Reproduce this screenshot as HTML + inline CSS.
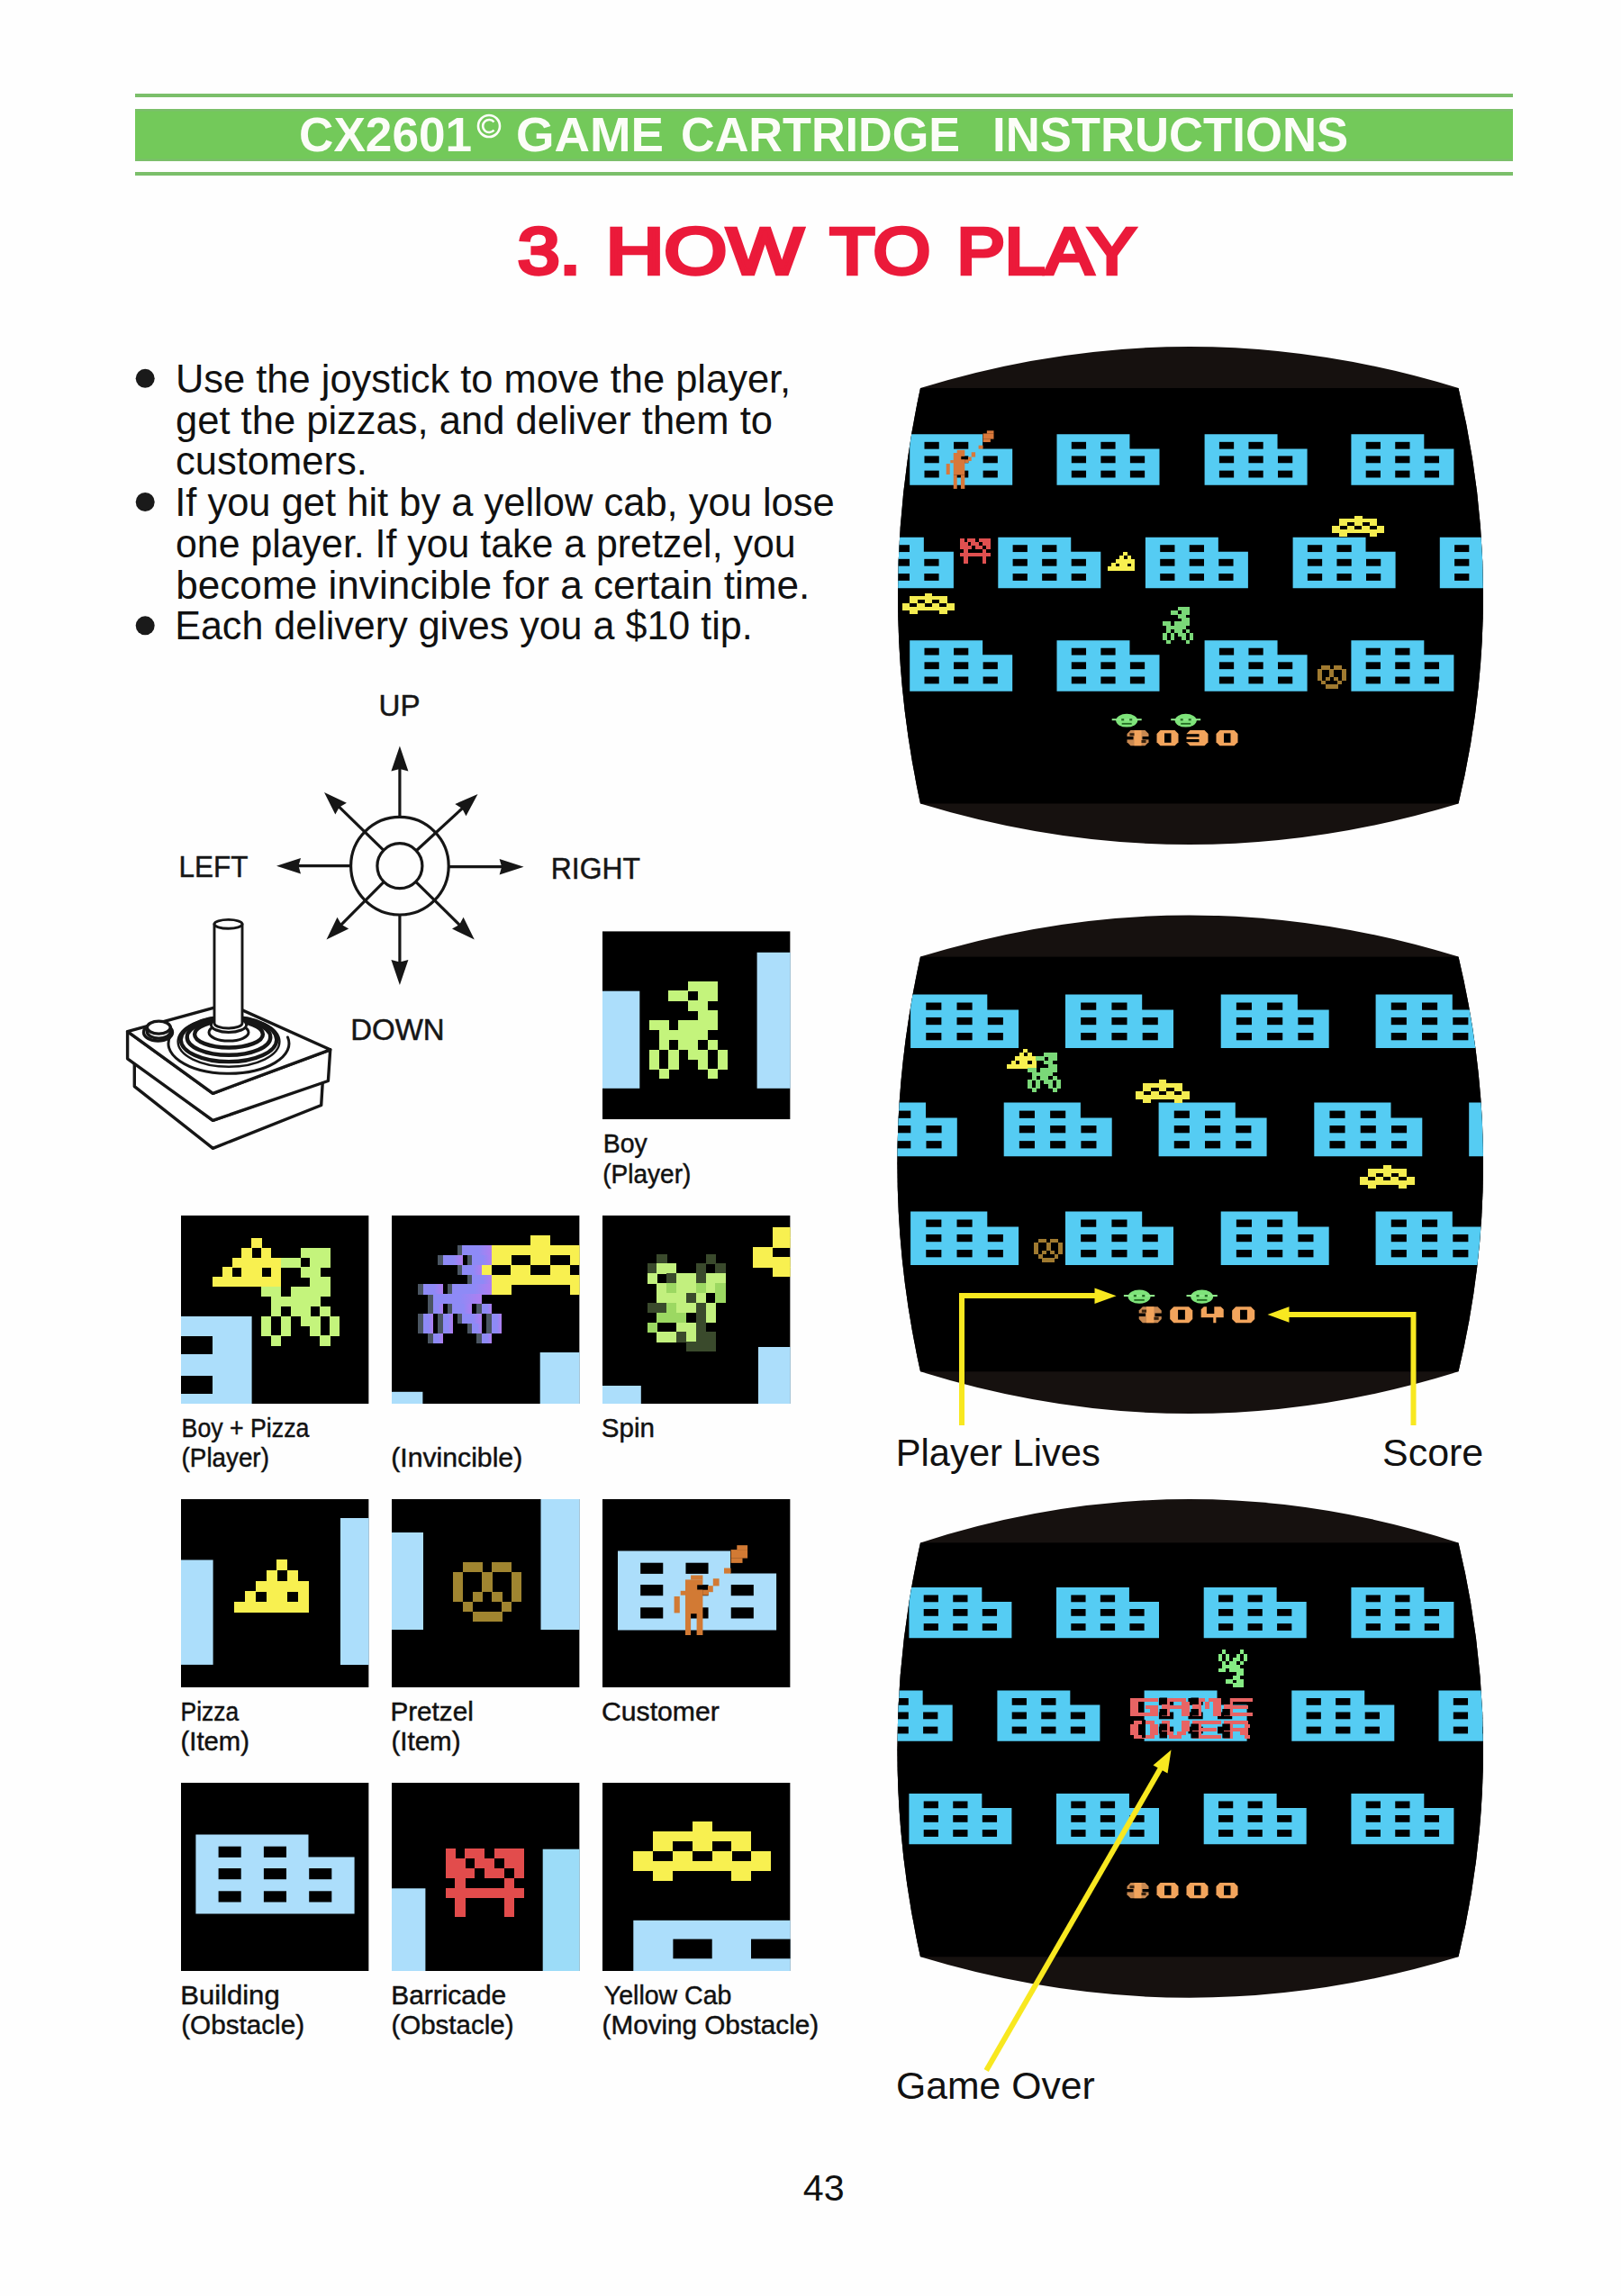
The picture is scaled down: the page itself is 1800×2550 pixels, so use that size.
<!DOCTYPE html><html><head><meta charset="utf-8"><style>html,body{margin:0;padding:0;background:#fff;}svg{display:block;}text{font-family:"Liberation Sans",sans-serif;white-space:pre;}</style></head><body>
<svg width="1800" height="2550" viewBox="0 0 1800 2550">
<rect x="0" y="0" width="1800" height="2550" fill="#fefefe"/>
<rect x="150" y="104" width="1530" height="4" fill="#7bbf6a"/>
<rect x="150" y="121" width="1530" height="58" fill="#73c95a"/>
<rect x="150" y="191" width="1530" height="4" fill="#7bbf6a"/>
<rect x="150" y="121" width="1530" height="2.5" fill="#7bbf6a"/><rect x="150" y="176.5" width="1530" height="2.5" fill="#7bbf6a"/>
<text x="332.00" y="168.00" font-size="53" font-weight="bold" fill="#fcfdf8" textLength="192.08" lengthAdjust="spacingAndGlyphs" >CX2601</text>
<circle cx="543" cy="140" r="12" fill="none" stroke="#fcfdf8" stroke-width="2.6"/>
<path d="M548.5 135.5 A7 7 0 1 0 548.5 144.5" fill="none" stroke="#fcfdf8" stroke-width="2.6"/>
<text x="573.00" y="168.00" font-size="53" font-weight="bold" fill="#fcfdf8" textLength="164.10" lengthAdjust="spacingAndGlyphs" >GAME</text>
<text x="756.00" y="168.00" font-size="53" font-weight="bold" fill="#fcfdf8" textLength="310.10" lengthAdjust="spacingAndGlyphs" >CARTRIDGE</text>
<text x="1102.00" y="168.00" font-size="53" font-weight="bold" fill="#fcfdf8" textLength="395.08" lengthAdjust="spacingAndGlyphs" >INSTRUCTIONS</text>
<text x="575.00" y="303.80" font-size="72" font-weight="normal" fill="#eb1a3a" textLength="69.80" lengthAdjust="spacingAndGlyphs" stroke="#eb1a3a" stroke-width="4.4" stroke-linejoin="miter">3.</text>
<text x="672.80" y="303.80" font-size="72" font-weight="normal" fill="#eb1a3a" textLength="218.98" lengthAdjust="spacingAndGlyphs" stroke="#eb1a3a" stroke-width="4.4" stroke-linejoin="miter">HOW</text>
<text x="921.40" y="303.80" font-size="72" font-weight="normal" fill="#eb1a3a" textLength="111.56" lengthAdjust="spacingAndGlyphs" stroke="#eb1a3a" stroke-width="4.4" stroke-linejoin="miter">TO</text>
<text x="1062.40" y="303.80" font-size="72" font-weight="normal" fill="#eb1a3a" textLength="199.06" lengthAdjust="spacingAndGlyphs" stroke="#eb1a3a" stroke-width="4.4" stroke-linejoin="miter">PLAY</text>
<text x="195.00" y="435.80" font-size="44" font-weight="normal" fill="#111" textLength="683.18" lengthAdjust="spacingAndGlyphs" >Use the joystick to move the player,</text>
<text x="195.00" y="481.55" font-size="44" font-weight="normal" fill="#111" textLength="662.99" lengthAdjust="spacingAndGlyphs" >get the pizzas, and deliver them to</text>
<text x="195.00" y="527.30" font-size="44" font-weight="normal" fill="#111" textLength="212.87" lengthAdjust="spacingAndGlyphs" >customers.</text>
<text x="194.20" y="573.05" font-size="44" font-weight="normal" fill="#111" textLength="732.55" lengthAdjust="spacingAndGlyphs" >If you get hit by a yellow cab, you lose</text>
<text x="195.00" y="618.80" font-size="44" font-weight="normal" fill="#111" textLength="688.57" lengthAdjust="spacingAndGlyphs" >one player. If you take a pretzel, you</text>
<text x="195.20" y="664.55" font-size="44" font-weight="normal" fill="#111" textLength="704.20" lengthAdjust="spacingAndGlyphs" >become invincible for a certain time.</text>
<text x="194.20" y="710.30" font-size="44" font-weight="normal" fill="#111" textLength="641.53" lengthAdjust="spacingAndGlyphs" >Each delivery gives you a $10 tip.</text>
<circle cx="161.2" cy="420.3" r="10.5" fill="#1a1a1a"/>
<circle cx="161.2" cy="557.5" r="10.5" fill="#1a1a1a"/>
<circle cx="161.2" cy="694.8" r="10.5" fill="#1a1a1a"/>
<g stroke="#161616" fill="none" stroke-width="3.2" stroke-linecap="butt">
<circle cx="443.9" cy="961.7" r="54.3"/>
<circle cx="443.9" cy="961.7" r="25"/>
<line x1="443.9" y1="907.4" x2="443.9" y2="851.5"/><path d="M443.9 828.5 L453.4 856.5 L443.9 854.0 L434.4 856.5 Z" fill="#161616" stroke="none"/>
<line x1="389.6" y1="961.7" x2="329.0" y2="961.7"/><path d="M307.0 961.7 L334.0 952.9 L331.5 961.7 L334.0 970.5 Z" fill="#161616" stroke="none"/>
<line x1="498.2" y1="962.7" x2="559.6" y2="962.7"/><path d="M581.6 962.7 L554.6 971.5 L557.1 962.7 L554.6 953.9 Z" fill="#161616" stroke="none"/>
<line x1="443.9" y1="1016.0" x2="443.9" y2="1071.0"/><path d="M443.9 1094.0 L434.4 1066.0 L443.9 1068.5 L453.4 1066.0 Z" fill="#161616" stroke="none"/>
<line x1="426.0" y1="944.3" x2="375.0" y2="894.7"/><path d="M360.0 880.0 L384.9 891.7 L376.8 896.4 L372.3 904.6 Z" fill="#161616" stroke="none"/>
<line x1="462.3" y1="944.8" x2="515.0" y2="896.2"/><path d="M530.5 882.0 L517.5 906.2 L513.2 897.9 L505.3 893.0 Z" fill="#161616" stroke="none"/>
<line x1="426.3" y1="979.4" x2="377.3" y2="1028.6"/><path d="M362.5 1043.5 L374.5 1018.7 L379.1 1026.8 L387.2 1031.4 Z" fill="#161616" stroke="none"/>
<line x1="461.7" y1="979.3" x2="511.9" y2="1028.8"/><path d="M526.8 1043.5 L502.0 1031.6 L510.1 1027.0 L514.6 1018.8 Z" fill="#161616" stroke="none"/>
</g>
<text x="420.60" y="794.50" font-size="34" font-weight="normal" fill="#161616" textLength="45.97" lengthAdjust="spacingAndGlyphs" stroke="#161616" stroke-width="0.5">UP</text>
<text x="198.60" y="974.20" font-size="34" font-weight="normal" fill="#161616" textLength="76.87" lengthAdjust="spacingAndGlyphs" stroke="#161616" stroke-width="0.5">LEFT</text>
<text x="611.80" y="976.30" font-size="34" font-weight="normal" fill="#161616" textLength="99.09" lengthAdjust="spacingAndGlyphs" stroke="#161616" stroke-width="0.5">RIGHT</text>
<text x="389.20" y="1154.80" font-size="34" font-weight="normal" fill="#161616" textLength="104.53" lengthAdjust="spacingAndGlyphs" stroke="#161616" stroke-width="0.5">DOWN</text>
<g stroke="#161616" fill="#fff" stroke-width="3.4" stroke-linejoin="round" stroke-linecap="round">
<polygon points="149.3,1179.6 149.3,1206.6 236.4,1275.3 356.7,1227.5 358.3,1201.2 236.4,1244.4"/>
<polygon points="141.6,1145.7 141.6,1175.8 236.4,1244.4 364.4,1200.5 366.7,1165.8 236.4,1214.3"/>
<polygon points="141.6,1145.7 253.4,1114.9 366.7,1165.8 236.4,1214.3"/>
<path d="M319.5,1152.0 A67 33.3 0 1 1 189.6,1149.7" fill="none" stroke-width="3"/>
<ellipse cx="254" cy="1156.8" rx="56.4" ry="28" fill="none" stroke-width="2.4"/>
<ellipse cx="254" cy="1154.7" rx="53.2" ry="24.5" fill="none" stroke-width="4.2"/>
<ellipse cx="254" cy="1151.9" rx="46.3" ry="19.9" fill="none" stroke-width="4.4"/>
<ellipse cx="254" cy="1148.7" rx="37.9" ry="14.8" fill="none" stroke-width="4.4"/>
<ellipse cx="254" cy="1146.6" rx="22" ry="9.5" stroke-width="3"/>
<ellipse cx="254" cy="1138.2" rx="19.6" ry="8.2" stroke-width="3"/>
<path d="M238.0,1026.3 L238.0,1136.5 A15.5 5.5 0 0 0 269.0,1136.5 L269.0,1026.3" stroke-width="2.9"/>
<ellipse cx="253.5" cy="1026.3" rx="15.5" ry="4.9" stroke-width="2.9"/>
<ellipse cx="175.5" cy="1146.5" rx="16" ry="9.5"/>
<path d="M163.3,1141.1 L163.3,1146.1 A13 7 0 0 0 189.3,1146.1 L189.3,1141.1"/>
<ellipse cx="176.3" cy="1141.1" rx="13" ry="7"/>
</g>
<defs><linearGradient id="pg" x1="0" y1="0" x2="1" y2="0"><stop offset="0" stop-color="#8e8af6"/><stop offset="0.55" stop-color="#8e8af6"/><stop offset="1" stop-color="#b07ef0"/></linearGradient>
<clipPath id="c_boy"><rect x="669" y="1034.2" width="208.6" height="209"/></clipPath>
<clipPath id="c_bp"><rect x="201" y="1350" width="208.6" height="209"/></clipPath>
<clipPath id="c_inv"><rect x="435" y="1350" width="208.6" height="209"/></clipPath>
<clipPath id="c_spin"><rect x="669" y="1350" width="208.6" height="209"/></clipPath>
<clipPath id="c_pizza"><rect x="201" y="1665" width="208.6" height="209"/></clipPath>
<clipPath id="c_pretzel"><rect x="435" y="1665" width="208.6" height="209"/></clipPath>
<clipPath id="c_cust"><rect x="669" y="1665" width="208.6" height="209"/></clipPath>
<clipPath id="c_bld"><rect x="201" y="1980" width="208.6" height="209"/></clipPath>
<clipPath id="c_barr"><rect x="435" y="1980" width="208.6" height="209"/></clipPath>
<clipPath id="c_cab"><rect x="669" y="1980" width="208.6" height="209"/></clipPath>
</defs>
<g clip-path="url(#c_boy)"><rect x="669" y="1034.2" width="208.6" height="209" fill="#000"/><rect x="669" y="1100.7" width="41.3" height="108.1" fill="#acdefb"/><rect x="840.6" y="1057.8" width="40" height="151" fill="#acdefb"/><g shape-rendering="crispEdges"><rect x="764.10" y="1089.60" width="32.90" height="11.20" fill="#c4f47c"/><rect x="742.40" y="1100.45" width="22.05" height="11.20" fill="#c4f47c"/><rect x="774.95" y="1100.45" width="22.05" height="11.20" fill="#c4f47c"/><rect x="764.10" y="1111.30" width="22.05" height="11.20" fill="#c4f47c"/><rect x="774.95" y="1122.15" width="22.05" height="11.20" fill="#c4f47c"/><rect x="720.70" y="1133.00" width="22.05" height="11.20" fill="#c4f47c"/><rect x="753.25" y="1133.00" width="43.75" height="11.20" fill="#c4f47c"/><rect x="731.55" y="1143.85" width="54.60" height="11.20" fill="#c4f47c"/><rect x="731.55" y="1154.70" width="11.20" height="11.20" fill="#c4f47c"/><rect x="753.25" y="1154.70" width="22.05" height="11.20" fill="#c4f47c"/><rect x="785.80" y="1154.70" width="11.20" height="11.20" fill="#c4f47c"/><rect x="720.70" y="1165.55" width="11.20" height="11.20" fill="#c4f47c"/><rect x="742.40" y="1165.55" width="11.20" height="11.20" fill="#c4f47c"/><rect x="764.10" y="1165.55" width="22.05" height="11.20" fill="#c4f47c"/><rect x="796.65" y="1165.55" width="11.20" height="11.20" fill="#c4f47c"/><rect x="720.70" y="1176.40" width="11.20" height="11.20" fill="#c4f47c"/><rect x="742.40" y="1176.40" width="11.20" height="11.20" fill="#c4f47c"/><rect x="774.95" y="1176.40" width="11.20" height="11.20" fill="#c4f47c"/><rect x="796.65" y="1176.40" width="11.20" height="11.20" fill="#c4f47c"/><rect x="731.55" y="1187.25" width="11.20" height="11.20" fill="#c4f47c"/><rect x="785.80" y="1187.25" width="11.20" height="11.20" fill="#c4f47c"/></g></g>
<g clip-path="url(#c_bp)"><rect x="201" y="1350" width="208.6" height="209" fill="#000"/><rect x="201" y="1462" width="78.6" height="100" fill="#acdefb"/><rect x="195" y="1484" width="41" height="20" fill="#000"/><rect x="195" y="1528" width="41" height="20" fill="#000"/><g shape-rendering="crispEdges"><rect x="279.30" y="1374.80" width="11.20" height="11.20" fill="#f8f050"/><rect x="268.45" y="1385.65" width="11.20" height="11.20" fill="#f8f050"/><rect x="290.15" y="1385.65" width="11.20" height="11.20" fill="#f8f050"/><rect x="257.60" y="1396.50" width="54.60" height="11.20" fill="#f8f050"/><rect x="246.75" y="1407.35" width="11.20" height="11.20" fill="#f8f050"/><rect x="268.45" y="1407.35" width="22.05" height="11.20" fill="#f8f050"/><rect x="301.00" y="1407.35" width="11.20" height="11.20" fill="#f8f050"/><rect x="235.90" y="1418.20" width="76.30" height="11.20" fill="#f8f050"/></g><g shape-rendering="crispEdges"><rect x="333.60" y="1385.70" width="32.90" height="11.20" fill="#c4f47c"/><rect x="311.90" y="1396.55" width="22.05" height="11.20" fill="#c4f47c"/><rect x="344.45" y="1396.55" width="22.05" height="11.20" fill="#c4f47c"/><rect x="333.60" y="1407.40" width="22.05" height="11.20" fill="#c4f47c"/><rect x="344.45" y="1418.25" width="22.05" height="11.20" fill="#c4f47c"/><rect x="290.20" y="1429.10" width="22.05" height="11.20" fill="#c4f47c"/><rect x="322.75" y="1429.10" width="43.75" height="11.20" fill="#c4f47c"/><rect x="301.05" y="1439.95" width="54.60" height="11.20" fill="#c4f47c"/><rect x="301.05" y="1450.80" width="11.20" height="11.20" fill="#c4f47c"/><rect x="322.75" y="1450.80" width="22.05" height="11.20" fill="#c4f47c"/><rect x="355.30" y="1450.80" width="11.20" height="11.20" fill="#c4f47c"/><rect x="290.20" y="1461.65" width="11.20" height="11.20" fill="#c4f47c"/><rect x="311.90" y="1461.65" width="11.20" height="11.20" fill="#c4f47c"/><rect x="333.60" y="1461.65" width="22.05" height="11.20" fill="#c4f47c"/><rect x="366.15" y="1461.65" width="11.20" height="11.20" fill="#c4f47c"/><rect x="290.20" y="1472.50" width="11.20" height="11.20" fill="#c4f47c"/><rect x="311.90" y="1472.50" width="11.20" height="11.20" fill="#c4f47c"/><rect x="344.45" y="1472.50" width="11.20" height="11.20" fill="#c4f47c"/><rect x="366.15" y="1472.50" width="11.20" height="11.20" fill="#c4f47c"/><rect x="301.05" y="1483.35" width="11.20" height="11.20" fill="#c4f47c"/><rect x="355.30" y="1483.35" width="11.20" height="11.20" fill="#c4f47c"/></g></g>
<g clip-path="url(#c_inv)"><rect x="435" y="1350" width="208.6" height="209" fill="#000"/><rect x="430" y="1545.8" width="39.4" height="20" fill="#acdefb"/><rect x="599.7" y="1502" width="50" height="60" fill="#acdefb"/><g shape-rendering="crispEdges"><rect x="589.10" y="1371.80" width="22.15" height="11.30" fill="#f8f050"/><rect x="545.50" y="1382.75" width="109.35" height="11.30" fill="#f8f050"/><rect x="545.50" y="1393.70" width="22.15" height="11.30" fill="#f8f050"/><rect x="589.10" y="1393.70" width="22.15" height="11.30" fill="#f8f050"/><rect x="632.70" y="1393.70" width="22.15" height="11.30" fill="#f8f050"/><rect x="523.70" y="1404.65" width="22.15" height="11.30" fill="#f8f050"/><rect x="567.30" y="1404.65" width="22.15" height="11.30" fill="#f8f050"/><rect x="610.90" y="1404.65" width="22.15" height="11.30" fill="#f8f050"/><rect x="654.50" y="1404.65" width="22.15" height="11.30" fill="#f8f050"/><rect x="523.70" y="1415.60" width="152.95" height="11.30" fill="#f8f050"/><rect x="545.50" y="1426.55" width="22.15" height="11.30" fill="#f8f050"/><rect x="632.70" y="1426.55" width="22.15" height="11.30" fill="#f8f050"/></g><g shape-rendering="crispEdges"><rect x="507.70" y="1383.00" width="32.90" height="11.20" fill="#4a5562"/><rect x="486.00" y="1393.85" width="22.05" height="11.20" fill="#4a5562"/><rect x="518.55" y="1393.85" width="22.05" height="11.20" fill="#4a5562"/><rect x="507.70" y="1404.70" width="22.05" height="11.20" fill="#4a5562"/><rect x="518.55" y="1415.55" width="22.05" height="11.20" fill="#4a5562"/><rect x="464.30" y="1426.40" width="22.05" height="11.20" fill="#4a5562"/><rect x="496.85" y="1426.40" width="43.75" height="11.20" fill="#4a5562"/><rect x="475.15" y="1437.25" width="54.60" height="11.20" fill="#4a5562"/><rect x="475.15" y="1448.10" width="11.20" height="11.20" fill="#4a5562"/><rect x="496.85" y="1448.10" width="22.05" height="11.20" fill="#4a5562"/><rect x="529.40" y="1448.10" width="11.20" height="11.20" fill="#4a5562"/><rect x="464.30" y="1458.95" width="11.20" height="11.20" fill="#4a5562"/><rect x="486.00" y="1458.95" width="11.20" height="11.20" fill="#4a5562"/><rect x="507.70" y="1458.95" width="22.05" height="11.20" fill="#4a5562"/><rect x="540.25" y="1458.95" width="11.20" height="11.20" fill="#4a5562"/><rect x="464.30" y="1469.80" width="11.20" height="11.20" fill="#4a5562"/><rect x="486.00" y="1469.80" width="11.20" height="11.20" fill="#4a5562"/><rect x="518.55" y="1469.80" width="11.20" height="11.20" fill="#4a5562"/><rect x="540.25" y="1469.80" width="11.20" height="11.20" fill="#4a5562"/><rect x="475.15" y="1480.65" width="11.20" height="11.20" fill="#4a5562"/><rect x="529.40" y="1480.65" width="11.20" height="11.20" fill="#4a5562"/></g><g shape-rendering="crispEdges"><rect x="513.20" y="1383.00" width="32.90" height="11.20" fill="url(#pg)"/><rect x="491.50" y="1393.85" width="22.05" height="11.20" fill="url(#pg)"/><rect x="524.05" y="1393.85" width="22.05" height="11.20" fill="url(#pg)"/><rect x="513.20" y="1404.70" width="22.05" height="11.20" fill="url(#pg)"/><rect x="524.05" y="1415.55" width="22.05" height="11.20" fill="url(#pg)"/><rect x="469.80" y="1426.40" width="22.05" height="11.20" fill="url(#pg)"/><rect x="502.35" y="1426.40" width="43.75" height="11.20" fill="url(#pg)"/><rect x="480.65" y="1437.25" width="54.60" height="11.20" fill="url(#pg)"/><rect x="480.65" y="1448.10" width="11.20" height="11.20" fill="url(#pg)"/><rect x="502.35" y="1448.10" width="22.05" height="11.20" fill="url(#pg)"/><rect x="534.90" y="1448.10" width="11.20" height="11.20" fill="url(#pg)"/><rect x="469.80" y="1458.95" width="11.20" height="11.20" fill="url(#pg)"/><rect x="491.50" y="1458.95" width="11.20" height="11.20" fill="url(#pg)"/><rect x="513.20" y="1458.95" width="22.05" height="11.20" fill="url(#pg)"/><rect x="545.75" y="1458.95" width="11.20" height="11.20" fill="url(#pg)"/><rect x="469.80" y="1469.80" width="11.20" height="11.20" fill="url(#pg)"/><rect x="491.50" y="1469.80" width="11.20" height="11.20" fill="url(#pg)"/><rect x="524.05" y="1469.80" width="11.20" height="11.20" fill="url(#pg)"/><rect x="545.75" y="1469.80" width="11.20" height="11.20" fill="url(#pg)"/><rect x="480.65" y="1480.65" width="11.20" height="11.20" fill="url(#pg)"/><rect x="534.90" y="1480.65" width="11.20" height="11.20" fill="url(#pg)"/></g></g>
<g clip-path="url(#c_spin)"><rect x="669" y="1350" width="208.6" height="209" fill="#000"/><rect x="660" y="1539" width="51.8" height="30" fill="#acdefb"/><rect x="842" y="1496" width="40" height="70" fill="#acdefb"/><g shape-rendering="crispEdges"><rect x="901.60" y="1352.40" width="22.15" height="11.30" fill="#f8f050"/><rect x="858.00" y="1363.35" width="109.35" height="11.30" fill="#f8f050"/><rect x="858.00" y="1374.30" width="22.15" height="11.30" fill="#f8f050"/><rect x="901.60" y="1374.30" width="22.15" height="11.30" fill="#f8f050"/><rect x="945.20" y="1374.30" width="22.15" height="11.30" fill="#f8f050"/><rect x="836.20" y="1385.25" width="22.15" height="11.30" fill="#f8f050"/><rect x="879.80" y="1385.25" width="22.15" height="11.30" fill="#f8f050"/><rect x="923.40" y="1385.25" width="22.15" height="11.30" fill="#f8f050"/><rect x="967.00" y="1385.25" width="22.15" height="11.30" fill="#f8f050"/><rect x="836.20" y="1396.20" width="152.95" height="11.30" fill="#f8f050"/><rect x="858.00" y="1407.15" width="22.15" height="11.30" fill="#f8f050"/><rect x="945.20" y="1407.15" width="22.15" height="11.30" fill="#f8f050"/></g><g shape-rendering="crispEdges"><rect x="729.35" y="1392.60" width="11.20" height="11.20" fill="#3a4a2c"/><rect x="783.60" y="1392.60" width="11.20" height="11.20" fill="#3a4a2c"/><rect x="718.50" y="1403.45" width="11.20" height="11.20" fill="#3a4a2c"/><rect x="729.35" y="1403.45" width="22.05" height="11.20" fill="#c2f07e"/><rect x="772.75" y="1403.45" width="11.20" height="11.20" fill="#3a4a2c"/><rect x="794.45" y="1403.45" width="11.20" height="11.20" fill="#3a4a2c"/><rect x="718.50" y="1414.30" width="11.20" height="11.20" fill="#c2f07e"/><rect x="740.20" y="1414.30" width="11.20" height="11.20" fill="#3a4a2c"/><rect x="751.05" y="1414.30" width="22.05" height="11.20" fill="#c2f07e"/><rect x="772.75" y="1414.30" width="11.20" height="11.20" fill="#3a4a2c"/><rect x="783.60" y="1414.30" width="22.05" height="11.20" fill="#c2f07e"/><rect x="729.35" y="1425.15" width="11.20" height="11.20" fill="#c2f07e"/><rect x="740.20" y="1425.15" width="11.20" height="11.20" fill="#9cd862"/><rect x="751.05" y="1425.15" width="22.05" height="11.20" fill="#c2f07e"/><rect x="772.75" y="1425.15" width="11.20" height="11.20" fill="#9cd862"/><rect x="783.60" y="1425.15" width="11.20" height="11.20" fill="#c2f07e"/><rect x="794.45" y="1425.15" width="11.20" height="11.20" fill="#9cd862"/><rect x="729.35" y="1436.00" width="32.90" height="11.20" fill="#c2f07e"/><rect x="761.90" y="1436.00" width="11.20" height="11.20" fill="#3a4a2c"/><rect x="772.75" y="1436.00" width="11.20" height="11.20" fill="#c2f07e"/><rect x="794.45" y="1436.00" width="11.20" height="11.20" fill="#9cd862"/><rect x="718.50" y="1446.85" width="22.05" height="11.20" fill="#3a4a2c"/><rect x="740.20" y="1446.85" width="11.20" height="11.20" fill="#9cd862"/><rect x="751.05" y="1446.85" width="22.05" height="11.20" fill="#c2f07e"/><rect x="772.75" y="1446.85" width="11.20" height="11.20" fill="#3a4a2c"/><rect x="783.60" y="1446.85" width="11.20" height="11.20" fill="#c2f07e"/><rect x="729.35" y="1457.70" width="32.90" height="11.20" fill="#9cd862"/><rect x="772.75" y="1457.70" width="11.20" height="11.20" fill="#3a4a2c"/><rect x="783.60" y="1457.70" width="11.20" height="11.20" fill="#c2f07e"/><rect x="718.50" y="1468.55" width="11.20" height="11.20" fill="#9cd862"/><rect x="751.05" y="1468.55" width="22.05" height="11.20" fill="#c2f07e"/><rect x="772.75" y="1468.55" width="11.20" height="11.20" fill="#3a4a2c"/><rect x="729.35" y="1479.40" width="22.05" height="11.20" fill="#c2f07e"/><rect x="751.05" y="1479.40" width="11.20" height="11.20" fill="#3a4a2c"/><rect x="761.90" y="1479.40" width="11.20" height="11.20" fill="#c2f07e"/><rect x="772.75" y="1479.40" width="22.05" height="11.20" fill="#3a4a2c"/><rect x="761.90" y="1490.25" width="32.90" height="11.20" fill="#3a4a2c"/></g></g>
<g clip-path="url(#c_pizza)"><rect x="201" y="1665" width="208.6" height="209" fill="#000"/><rect x="195" y="1732.5" width="41.6" height="116.4" fill="#acdefb"/><rect x="378" y="1686" width="40" height="163" fill="#acdefb"/><g shape-rendering="crispEdges"><rect x="307.26" y="1732.00" width="12.09" height="12.15" fill="#f8f050"/><rect x="295.52" y="1743.80" width="12.09" height="12.15" fill="#f8f050"/><rect x="319.00" y="1743.80" width="12.09" height="12.15" fill="#f8f050"/><rect x="283.78" y="1755.60" width="59.05" height="12.15" fill="#f8f050"/><rect x="272.04" y="1767.40" width="12.09" height="12.15" fill="#f8f050"/><rect x="295.52" y="1767.40" width="23.83" height="12.15" fill="#f8f050"/><rect x="330.74" y="1767.40" width="12.09" height="12.15" fill="#f8f050"/><rect x="260.30" y="1779.20" width="82.53" height="12.15" fill="#f8f050"/></g></g>
<g clip-path="url(#c_pretzel)"><rect x="435" y="1665" width="208.6" height="209" fill="#000"/><rect x="430" y="1702" width="40" height="108" fill="#acdefb"/><rect x="600.5" y="1660" width="50" height="150" fill="#acdefb"/><g shape-rendering="crispEdges"><rect x="513.60" y="1735.00" width="22.15" height="11.25" fill="#a08530"/><rect x="546.30" y="1735.00" width="22.15" height="11.25" fill="#a08530"/><rect x="502.70" y="1745.90" width="11.25" height="11.25" fill="#a08530"/><rect x="535.40" y="1745.90" width="11.25" height="11.25" fill="#a08530"/><rect x="568.10" y="1745.90" width="11.25" height="11.25" fill="#a08530"/><rect x="502.70" y="1756.80" width="11.25" height="11.25" fill="#a08530"/><rect x="535.40" y="1756.80" width="11.25" height="11.25" fill="#a08530"/><rect x="568.10" y="1756.80" width="11.25" height="11.25" fill="#a08530"/><rect x="502.70" y="1767.70" width="11.25" height="11.25" fill="#a08530"/><rect x="524.50" y="1767.70" width="11.25" height="11.25" fill="#a08530"/><rect x="546.30" y="1767.70" width="11.25" height="11.25" fill="#a08530"/><rect x="568.10" y="1767.70" width="11.25" height="11.25" fill="#a08530"/><rect x="513.60" y="1778.60" width="11.25" height="11.25" fill="#a08530"/><rect x="557.20" y="1778.60" width="11.25" height="11.25" fill="#a08530"/><rect x="524.50" y="1789.50" width="33.05" height="11.25" fill="#a08530"/></g></g>
<g clip-path="url(#c_cust)"><rect x="669" y="1665" width="208.6" height="209" fill="#000"/><path d="M686.00,1722.40 H811.03 V1747.51 H862.10 V1810.50 H686.00 Z" fill="#acdefb"/><rect x="711.18" y="1735.70" width="25.09" height="12.20" fill="#000"/><rect x="711.18" y="1760.02" width="25.09" height="12.20" fill="#000"/><rect x="711.18" y="1785.30" width="25.09" height="12.20" fill="#000"/><rect x="761.46" y="1735.70" width="25.09" height="12.20" fill="#000"/><rect x="761.46" y="1760.02" width="25.09" height="12.20" fill="#000"/><rect x="761.46" y="1785.30" width="25.09" height="12.20" fill="#000"/><rect x="811.74" y="1760.02" width="25.09" height="12.20" fill="#000"/><rect x="811.74" y="1785.30" width="25.09" height="12.20" fill="#000"/><g transform="translate(686.00,1722.40) scale(1.0000)"><rect x="81.10" y="27.10" width="13.30" height="5.10" fill="#d27a34"/><rect x="75.00" y="32.00" width="19.40" height="37.80" fill="#d27a34"/><rect x="69.70" y="44.40" width="5.50" height="4.90" fill="#d27a34"/><rect x="62.60" y="50.60" width="6.20" height="18.40" fill="#d27a34"/><rect x="94.20" y="43.10" width="6.70" height="6.20" fill="#d27a34"/><rect x="100.00" y="38.80" width="5.80" height="7.00" fill="#d27a34"/><rect x="105.80" y="30.80" width="6.80" height="8.20" fill="#d27a34"/><rect x="75.00" y="69.60" width="6.10" height="24.00" fill="#d27a34"/><rect x="87.60" y="69.60" width="6.80" height="24.00" fill="#d27a34"/><rect x="132.30" y="-6.20" width="11.80" height="5.10" fill="#d27a34"/><rect x="125.60" y="-1.30" width="18.50" height="9.50" fill="#d27a34"/><rect x="125.60" y="8.00" width="12.90" height="5.50" fill="#d27a34"/><rect x="118.00" y="19.10" width="7.60" height="6.10" fill="#d27a34"/><rect x="88.20" y="37.90" width="11.8" height="5.2" fill="#000"/></g></g>
<g clip-path="url(#c_bld)"><rect x="201" y="1980" width="208.6" height="209" fill="#000"/><path d="M217.40,2037.40 H342.50 V2062.51 H393.60 V2125.50 H217.40 Z" fill="#acdefb"/><rect x="242.60" y="2050.70" width="25.11" height="12.20" fill="#000"/><rect x="242.60" y="2075.02" width="25.11" height="12.20" fill="#000"/><rect x="242.60" y="2100.30" width="25.11" height="12.20" fill="#000"/><rect x="292.90" y="2050.70" width="25.11" height="12.20" fill="#000"/><rect x="292.90" y="2075.02" width="25.11" height="12.20" fill="#000"/><rect x="292.90" y="2100.30" width="25.11" height="12.20" fill="#000"/><rect x="343.21" y="2075.02" width="25.11" height="12.20" fill="#000"/><rect x="343.21" y="2100.30" width="25.11" height="12.20" fill="#000"/></g>
<g clip-path="url(#c_barr)"><rect x="435" y="1980" width="208.6" height="209" fill="#000"/><rect x="430" y="2097.3" width="42.4" height="100" fill="#acdefb"/><rect x="602.7" y="2053.7" width="50" height="140" fill="#9cdcf8"/><g shape-rendering="crispEdges"><rect x="494.50" y="2053.10" width="11.21" height="11.21" fill="#e24c4c"/><rect x="516.22" y="2053.10" width="22.07" height="11.21" fill="#e24c4c"/><rect x="548.80" y="2053.10" width="32.93" height="11.21" fill="#e24c4c"/><rect x="494.50" y="2063.96" width="22.07" height="11.21" fill="#e24c4c"/><rect x="527.08" y="2063.96" width="22.07" height="11.21" fill="#e24c4c"/><rect x="559.66" y="2063.96" width="22.07" height="11.21" fill="#e24c4c"/><rect x="494.50" y="2074.82" width="32.93" height="11.21" fill="#e24c4c"/><rect x="537.94" y="2074.82" width="22.07" height="11.21" fill="#e24c4c"/><rect x="570.52" y="2074.82" width="11.21" height="11.21" fill="#e24c4c"/><rect x="505.36" y="2085.68" width="11.21" height="11.21" fill="#e24c4c"/><rect x="559.66" y="2085.68" width="11.21" height="11.21" fill="#e24c4c"/><rect x="494.50" y="2096.54" width="87.23" height="11.21" fill="#e24c4c"/><rect x="505.36" y="2107.40" width="11.21" height="11.21" fill="#e24c4c"/><rect x="559.66" y="2107.40" width="11.21" height="11.21" fill="#e24c4c"/><rect x="505.36" y="2118.26" width="11.21" height="11.21" fill="#e24c4c"/><rect x="559.66" y="2118.26" width="11.21" height="11.21" fill="#e24c4c"/></g></g>
<g clip-path="url(#c_cab)"><rect x="669" y="1980" width="208.6" height="209" fill="#000"/><rect x="703.3" y="2132.8" width="180" height="60" fill="#acdefb"/><rect x="747.4" y="2153.6" width="43.3" height="21.7" fill="#000"/><rect x="834" y="2153.6" width="50" height="21.7" fill="#000"/><g shape-rendering="crispEdges"><rect x="768.70" y="2022.90" width="22.15" height="11.35" fill="#f8f050"/><rect x="725.10" y="2033.90" width="109.35" height="11.35" fill="#f8f050"/><rect x="725.10" y="2044.90" width="22.15" height="11.35" fill="#f8f050"/><rect x="768.70" y="2044.90" width="22.15" height="11.35" fill="#f8f050"/><rect x="812.30" y="2044.90" width="22.15" height="11.35" fill="#f8f050"/><rect x="703.30" y="2055.90" width="22.15" height="11.35" fill="#f8f050"/><rect x="746.90" y="2055.90" width="22.15" height="11.35" fill="#f8f050"/><rect x="790.50" y="2055.90" width="22.15" height="11.35" fill="#f8f050"/><rect x="834.10" y="2055.90" width="22.15" height="11.35" fill="#f8f050"/><rect x="703.30" y="2066.90" width="152.95" height="11.35" fill="#f8f050"/><rect x="725.10" y="2077.90" width="22.15" height="11.35" fill="#f8f050"/><rect x="812.30" y="2077.90" width="22.15" height="11.35" fill="#f8f050"/></g></g>
<text x="669.80" y="1279.60" font-size="29" font-weight="normal" fill="#111" textLength="49.07" lengthAdjust="spacingAndGlyphs" stroke="#111" stroke-width="0.45">Boy</text>
<text x="669.20" y="1313.70" font-size="29" font-weight="normal" fill="#111" textLength="98.11" lengthAdjust="spacingAndGlyphs" stroke="#111" stroke-width="0.45">(Player)</text>
<text x="201.60" y="1595.60" font-size="29" font-weight="normal" fill="#111" textLength="141.77" lengthAdjust="spacingAndGlyphs" stroke="#111" stroke-width="0.45">Boy + Pizza</text>
<text x="201.60" y="1628.70" font-size="29" font-weight="normal" fill="#111" textLength="97.29" lengthAdjust="spacingAndGlyphs" stroke="#111" stroke-width="0.45">(Player)</text>
<text x="434.20" y="1628.70" font-size="29" font-weight="normal" fill="#111" textLength="146.03" lengthAdjust="spacingAndGlyphs" stroke="#111" stroke-width="0.45">(Invincible)</text>
<text x="667.80" y="1595.60" font-size="29" font-weight="normal" fill="#111" textLength="59.17" lengthAdjust="spacingAndGlyphs" stroke="#111" stroke-width="0.45">Spin</text>
<text x="200.60" y="1910.50" font-size="29" font-weight="normal" fill="#111" textLength="64.56" lengthAdjust="spacingAndGlyphs" stroke="#111" stroke-width="0.45">Pizza</text>
<text x="200.60" y="1943.60" font-size="29" font-weight="normal" fill="#111" textLength="76.31" lengthAdjust="spacingAndGlyphs" stroke="#111" stroke-width="0.45">(Item)</text>
<text x="433.40" y="1910.50" font-size="29" font-weight="normal" fill="#111" textLength="92.36" lengthAdjust="spacingAndGlyphs" stroke="#111" stroke-width="0.45">Pretzel</text>
<text x="434.40" y="1943.60" font-size="29" font-weight="normal" fill="#111" textLength="77.09" lengthAdjust="spacingAndGlyphs" stroke="#111" stroke-width="0.45">(Item)</text>
<text x="668.00" y="1910.90" font-size="29" font-weight="normal" fill="#111" textLength="130.78" lengthAdjust="spacingAndGlyphs" stroke="#111" stroke-width="0.45">Customer</text>
<text x="200.20" y="2225.50" font-size="29" font-weight="normal" fill="#111" textLength="110.46" lengthAdjust="spacingAndGlyphs" stroke="#111" stroke-width="0.45">Building</text>
<text x="201.20" y="2258.60" font-size="29" font-weight="normal" fill="#111" textLength="136.88" lengthAdjust="spacingAndGlyphs" stroke="#111" stroke-width="0.45">(Obstacle)</text>
<text x="434.20" y="2225.60" font-size="29" font-weight="normal" fill="#111" textLength="128.01" lengthAdjust="spacingAndGlyphs" stroke="#111" stroke-width="0.45">Barricade</text>
<text x="434.40" y="2258.60" font-size="29" font-weight="normal" fill="#111" textLength="136.08" lengthAdjust="spacingAndGlyphs" stroke="#111" stroke-width="0.45">(Obstacle)</text>
<text x="670.80" y="2225.60" font-size="29" font-weight="normal" fill="#111" textLength="141.64" lengthAdjust="spacingAndGlyphs" stroke="#111" stroke-width="0.45">Yellow Cab</text>
<text x="668.60" y="2258.60" font-size="29" font-weight="normal" fill="#111" textLength="240.51" lengthAdjust="spacingAndGlyphs" stroke="#111" stroke-width="0.45">(Moving Obstacle)</text>
<defs><clipPath id="scr1"><path d="M1022,431 Q1320.75,339 1619.5,431 Q1674.5,661.75 1619.5,892.5 Q1320.75,983.5 1022,892.5 Q972,661.75 1022,431 Z"/></clipPath></defs>
<g clip-path="url(#scr1)">
<rect x="992" y="380" width="660" height="563" fill="#16110f"/>
<rect x="992" y="431" width="660" height="461.5" fill="#000"/>
<path d="M1010.20,482.30 H1091.14 V498.40 H1124.20 V538.80 H1010.20 Z" fill="#55ccf3"/><rect x="1026.50" y="490.83" width="16.24" height="7.83" fill="#000"/><rect x="1026.50" y="506.43" width="16.24" height="7.83" fill="#000"/><rect x="1026.50" y="522.64" width="16.24" height="7.83" fill="#000"/><rect x="1059.05" y="490.83" width="16.24" height="7.83" fill="#000"/><rect x="1059.05" y="506.43" width="16.24" height="7.83" fill="#000"/><rect x="1059.05" y="522.64" width="16.24" height="7.83" fill="#000"/><rect x="1091.60" y="506.43" width="16.24" height="7.83" fill="#000"/><rect x="1091.60" y="522.64" width="16.24" height="7.83" fill="#000"/><path d="M1010.20,711.20 H1091.14 V727.30 H1124.20 V767.70 H1010.20 Z" fill="#55ccf3"/><rect x="1026.50" y="719.73" width="16.24" height="7.83" fill="#000"/><rect x="1026.50" y="735.33" width="16.24" height="7.83" fill="#000"/><rect x="1026.50" y="751.54" width="16.24" height="7.83" fill="#000"/><rect x="1059.05" y="719.73" width="16.24" height="7.83" fill="#000"/><rect x="1059.05" y="735.33" width="16.24" height="7.83" fill="#000"/><rect x="1059.05" y="751.54" width="16.24" height="7.83" fill="#000"/><rect x="1091.60" y="735.33" width="16.24" height="7.83" fill="#000"/><rect x="1091.60" y="751.54" width="16.24" height="7.83" fill="#000"/><path d="M1173.50,482.30 H1254.44 V498.40 H1287.50 V538.80 H1173.50 Z" fill="#55ccf3"/><rect x="1189.80" y="490.83" width="16.24" height="7.83" fill="#000"/><rect x="1189.80" y="506.43" width="16.24" height="7.83" fill="#000"/><rect x="1189.80" y="522.64" width="16.24" height="7.83" fill="#000"/><rect x="1222.35" y="490.83" width="16.24" height="7.83" fill="#000"/><rect x="1222.35" y="506.43" width="16.24" height="7.83" fill="#000"/><rect x="1222.35" y="522.64" width="16.24" height="7.83" fill="#000"/><rect x="1254.90" y="506.43" width="16.24" height="7.83" fill="#000"/><rect x="1254.90" y="522.64" width="16.24" height="7.83" fill="#000"/><path d="M1173.50,711.20 H1254.44 V727.30 H1287.50 V767.70 H1173.50 Z" fill="#55ccf3"/><rect x="1189.80" y="719.73" width="16.24" height="7.83" fill="#000"/><rect x="1189.80" y="735.33" width="16.24" height="7.83" fill="#000"/><rect x="1189.80" y="751.54" width="16.24" height="7.83" fill="#000"/><rect x="1222.35" y="719.73" width="16.24" height="7.83" fill="#000"/><rect x="1222.35" y="735.33" width="16.24" height="7.83" fill="#000"/><rect x="1222.35" y="751.54" width="16.24" height="7.83" fill="#000"/><rect x="1254.90" y="735.33" width="16.24" height="7.83" fill="#000"/><rect x="1254.90" y="751.54" width="16.24" height="7.83" fill="#000"/><path d="M1337.60,482.30 H1418.54 V498.40 H1451.60 V538.80 H1337.60 Z" fill="#55ccf3"/><rect x="1353.90" y="490.83" width="16.24" height="7.83" fill="#000"/><rect x="1353.90" y="506.43" width="16.24" height="7.83" fill="#000"/><rect x="1353.90" y="522.64" width="16.24" height="7.83" fill="#000"/><rect x="1386.45" y="490.83" width="16.24" height="7.83" fill="#000"/><rect x="1386.45" y="506.43" width="16.24" height="7.83" fill="#000"/><rect x="1386.45" y="522.64" width="16.24" height="7.83" fill="#000"/><rect x="1419.00" y="506.43" width="16.24" height="7.83" fill="#000"/><rect x="1419.00" y="522.64" width="16.24" height="7.83" fill="#000"/><path d="M1337.60,711.20 H1418.54 V727.30 H1451.60 V767.70 H1337.60 Z" fill="#55ccf3"/><rect x="1353.90" y="719.73" width="16.24" height="7.83" fill="#000"/><rect x="1353.90" y="735.33" width="16.24" height="7.83" fill="#000"/><rect x="1353.90" y="751.54" width="16.24" height="7.83" fill="#000"/><rect x="1386.45" y="719.73" width="16.24" height="7.83" fill="#000"/><rect x="1386.45" y="735.33" width="16.24" height="7.83" fill="#000"/><rect x="1386.45" y="751.54" width="16.24" height="7.83" fill="#000"/><rect x="1419.00" y="735.33" width="16.24" height="7.83" fill="#000"/><rect x="1419.00" y="751.54" width="16.24" height="7.83" fill="#000"/><path d="M1500.40,482.30 H1581.34 V498.40 H1614.40 V538.80 H1500.40 Z" fill="#55ccf3"/><rect x="1516.70" y="490.83" width="16.24" height="7.83" fill="#000"/><rect x="1516.70" y="506.43" width="16.24" height="7.83" fill="#000"/><rect x="1516.70" y="522.64" width="16.24" height="7.83" fill="#000"/><rect x="1549.25" y="490.83" width="16.24" height="7.83" fill="#000"/><rect x="1549.25" y="506.43" width="16.24" height="7.83" fill="#000"/><rect x="1549.25" y="522.64" width="16.24" height="7.83" fill="#000"/><rect x="1581.80" y="506.43" width="16.24" height="7.83" fill="#000"/><rect x="1581.80" y="522.64" width="16.24" height="7.83" fill="#000"/><path d="M1500.40,711.20 H1581.34 V727.30 H1614.40 V767.70 H1500.40 Z" fill="#55ccf3"/><rect x="1516.70" y="719.73" width="16.24" height="7.83" fill="#000"/><rect x="1516.70" y="735.33" width="16.24" height="7.83" fill="#000"/><rect x="1516.70" y="751.54" width="16.24" height="7.83" fill="#000"/><rect x="1549.25" y="719.73" width="16.24" height="7.83" fill="#000"/><rect x="1549.25" y="735.33" width="16.24" height="7.83" fill="#000"/><rect x="1549.25" y="751.54" width="16.24" height="7.83" fill="#000"/><rect x="1581.80" y="735.33" width="16.24" height="7.83" fill="#000"/><rect x="1581.80" y="751.54" width="16.24" height="7.83" fill="#000"/><path d="M944.90,596.70 H1025.84 V612.80 H1058.90 V653.20 H944.90 Z" fill="#55ccf3"/><rect x="961.20" y="605.23" width="16.24" height="7.83" fill="#000"/><rect x="961.20" y="620.83" width="16.24" height="7.83" fill="#000"/><rect x="961.20" y="637.04" width="16.24" height="7.83" fill="#000"/><rect x="993.75" y="605.23" width="16.24" height="7.83" fill="#000"/><rect x="993.75" y="620.83" width="16.24" height="7.83" fill="#000"/><rect x="993.75" y="637.04" width="16.24" height="7.83" fill="#000"/><rect x="1026.30" y="620.83" width="16.24" height="7.83" fill="#000"/><rect x="1026.30" y="637.04" width="16.24" height="7.83" fill="#000"/><path d="M1108.30,596.70 H1189.24 V612.80 H1222.30 V653.20 H1108.30 Z" fill="#55ccf3"/><rect x="1124.60" y="605.23" width="16.24" height="7.83" fill="#000"/><rect x="1124.60" y="620.83" width="16.24" height="7.83" fill="#000"/><rect x="1124.60" y="637.04" width="16.24" height="7.83" fill="#000"/><rect x="1157.15" y="605.23" width="16.24" height="7.83" fill="#000"/><rect x="1157.15" y="620.83" width="16.24" height="7.83" fill="#000"/><rect x="1157.15" y="637.04" width="16.24" height="7.83" fill="#000"/><rect x="1189.70" y="620.83" width="16.24" height="7.83" fill="#000"/><rect x="1189.70" y="637.04" width="16.24" height="7.83" fill="#000"/><path d="M1271.90,596.70 H1352.84 V612.80 H1385.90 V653.20 H1271.90 Z" fill="#55ccf3"/><rect x="1288.20" y="605.23" width="16.24" height="7.83" fill="#000"/><rect x="1288.20" y="620.83" width="16.24" height="7.83" fill="#000"/><rect x="1288.20" y="637.04" width="16.24" height="7.83" fill="#000"/><rect x="1320.75" y="605.23" width="16.24" height="7.83" fill="#000"/><rect x="1320.75" y="620.83" width="16.24" height="7.83" fill="#000"/><rect x="1320.75" y="637.04" width="16.24" height="7.83" fill="#000"/><rect x="1353.30" y="620.83" width="16.24" height="7.83" fill="#000"/><rect x="1353.30" y="637.04" width="16.24" height="7.83" fill="#000"/><path d="M1435.60,596.70 H1516.54 V612.80 H1549.60 V653.20 H1435.60 Z" fill="#55ccf3"/><rect x="1451.90" y="605.23" width="16.24" height="7.83" fill="#000"/><rect x="1451.90" y="620.83" width="16.24" height="7.83" fill="#000"/><rect x="1451.90" y="637.04" width="16.24" height="7.83" fill="#000"/><rect x="1484.45" y="605.23" width="16.24" height="7.83" fill="#000"/><rect x="1484.45" y="620.83" width="16.24" height="7.83" fill="#000"/><rect x="1484.45" y="637.04" width="16.24" height="7.83" fill="#000"/><rect x="1517.00" y="620.83" width="16.24" height="7.83" fill="#000"/><rect x="1517.00" y="637.04" width="16.24" height="7.83" fill="#000"/><path d="M1598.80,596.70 H1679.74 V612.80 H1712.80 V653.20 H1598.80 Z" fill="#55ccf3"/><rect x="1615.10" y="605.23" width="16.24" height="7.83" fill="#000"/><rect x="1615.10" y="620.83" width="16.24" height="7.83" fill="#000"/><rect x="1615.10" y="637.04" width="16.24" height="7.83" fill="#000"/><rect x="1647.65" y="605.23" width="16.24" height="7.83" fill="#000"/><rect x="1647.65" y="620.83" width="16.24" height="7.83" fill="#000"/><rect x="1647.65" y="637.04" width="16.24" height="7.83" fill="#000"/><rect x="1680.20" y="620.83" width="16.24" height="7.83" fill="#000"/><rect x="1680.20" y="637.04" width="16.24" height="7.83" fill="#000"/><g transform="translate(1010.20,482.30) scale(0.6474)"><rect x="81.10" y="27.10" width="13.30" height="5.10" fill="#d8783a"/><rect x="75.00" y="32.00" width="19.40" height="37.80" fill="#d8783a"/><rect x="69.70" y="44.40" width="5.50" height="4.90" fill="#d8783a"/><rect x="62.60" y="50.60" width="6.20" height="18.40" fill="#d8783a"/><rect x="94.20" y="43.10" width="6.70" height="6.20" fill="#d8783a"/><rect x="100.00" y="38.80" width="5.80" height="7.00" fill="#d8783a"/><rect x="105.80" y="30.80" width="6.80" height="8.20" fill="#d8783a"/><rect x="75.00" y="69.60" width="6.10" height="24.00" fill="#d8783a"/><rect x="87.60" y="69.60" width="6.80" height="24.00" fill="#d8783a"/><rect x="132.30" y="-6.20" width="11.80" height="5.10" fill="#d8783a"/><rect x="125.60" y="-1.30" width="18.50" height="9.50" fill="#d8783a"/><rect x="125.60" y="8.00" width="12.90" height="5.50" fill="#d8783a"/><rect x="118.00" y="19.10" width="7.60" height="6.10" fill="#d8783a"/><rect x="88.20" y="37.90" width="11.8" height="5.2" fill="#000"/></g><g shape-rendering="crispEdges"><rect x="1066.00" y="597.50" width="4.50" height="4.40" fill="#e05050"/><rect x="1074.30" y="597.50" width="8.65" height="4.40" fill="#e05050"/><rect x="1086.75" y="597.50" width="12.80" height="4.40" fill="#e05050"/><rect x="1066.00" y="601.55" width="8.65" height="4.40" fill="#e05050"/><rect x="1078.45" y="601.55" width="8.65" height="4.40" fill="#e05050"/><rect x="1090.90" y="601.55" width="8.65" height="4.40" fill="#e05050"/><rect x="1066.00" y="605.60" width="12.80" height="4.40" fill="#e05050"/><rect x="1082.60" y="605.60" width="8.65" height="4.40" fill="#e05050"/><rect x="1095.05" y="605.60" width="4.50" height="4.40" fill="#e05050"/><rect x="1070.15" y="609.65" width="4.50" height="4.40" fill="#e05050"/><rect x="1090.90" y="609.65" width="4.50" height="4.40" fill="#e05050"/><rect x="1066.00" y="613.70" width="33.55" height="4.40" fill="#e05050"/><rect x="1070.15" y="617.75" width="4.50" height="4.40" fill="#e05050"/><rect x="1090.90" y="617.75" width="4.50" height="4.40" fill="#e05050"/><rect x="1070.15" y="621.80" width="4.50" height="4.40" fill="#e05050"/><rect x="1090.90" y="621.80" width="4.50" height="4.40" fill="#e05050"/></g><g shape-rendering="crispEdges"><rect x="1247.20" y="613.00" width="4.65" height="4.45" fill="#f8f050"/><rect x="1242.90" y="617.10" width="4.65" height="4.45" fill="#f8f050"/><rect x="1251.50" y="617.10" width="4.65" height="4.45" fill="#f8f050"/><rect x="1238.60" y="621.20" width="21.85" height="4.45" fill="#f8f050"/><rect x="1234.30" y="625.30" width="4.65" height="4.45" fill="#f8f050"/><rect x="1242.90" y="625.30" width="8.95" height="4.45" fill="#f8f050"/><rect x="1255.80" y="625.30" width="4.65" height="4.45" fill="#f8f050"/><rect x="1230.00" y="629.40" width="30.45" height="4.45" fill="#f8f050"/></g><g shape-rendering="crispEdges"><rect x="1503.90" y="572.50" width="8.65" height="4.15" fill="#f4ec50"/><rect x="1487.30" y="576.30" width="41.85" height="4.15" fill="#f4ec50"/><rect x="1487.30" y="580.10" width="8.65" height="4.15" fill="#f4ec50"/><rect x="1503.90" y="580.10" width="8.65" height="4.15" fill="#f4ec50"/><rect x="1520.50" y="580.10" width="8.65" height="4.15" fill="#f4ec50"/><rect x="1479.00" y="583.90" width="8.65" height="4.15" fill="#f4ec50"/><rect x="1495.60" y="583.90" width="8.65" height="4.15" fill="#f4ec50"/><rect x="1512.20" y="583.90" width="8.65" height="4.15" fill="#f4ec50"/><rect x="1528.80" y="583.90" width="8.65" height="4.15" fill="#f4ec50"/><rect x="1479.00" y="587.70" width="58.45" height="4.15" fill="#f4ec50"/><rect x="1487.30" y="591.50" width="8.65" height="4.15" fill="#f4ec50"/><rect x="1520.50" y="591.50" width="8.65" height="4.15" fill="#f4ec50"/></g><g shape-rendering="crispEdges"><rect x="1026.50" y="658.50" width="8.65" height="4.15" fill="#f4ec50"/><rect x="1009.90" y="662.30" width="41.85" height="4.15" fill="#f4ec50"/><rect x="1009.90" y="666.10" width="8.65" height="4.15" fill="#f4ec50"/><rect x="1026.50" y="666.10" width="8.65" height="4.15" fill="#f4ec50"/><rect x="1043.10" y="666.10" width="8.65" height="4.15" fill="#f4ec50"/><rect x="1001.60" y="669.90" width="8.65" height="4.15" fill="#f4ec50"/><rect x="1018.20" y="669.90" width="8.65" height="4.15" fill="#f4ec50"/><rect x="1034.80" y="669.90" width="8.65" height="4.15" fill="#f4ec50"/><rect x="1051.40" y="669.90" width="8.65" height="4.15" fill="#f4ec50"/><rect x="1001.60" y="673.70" width="58.45" height="4.15" fill="#f4ec50"/><rect x="1009.90" y="677.50" width="8.65" height="4.15" fill="#f4ec50"/><rect x="1043.10" y="677.50" width="8.65" height="4.15" fill="#f4ec50"/></g><g shape-rendering="crispEdges"><rect x="1308.00" y="674.00" width="13.10" height="4.45" fill="#7ad878"/><rect x="1299.50" y="678.10" width="8.85" height="4.45" fill="#7ad878"/><rect x="1312.25" y="678.10" width="8.85" height="4.45" fill="#7ad878"/><rect x="1308.00" y="682.20" width="8.85" height="4.45" fill="#7ad878"/><rect x="1312.25" y="686.30" width="8.85" height="4.45" fill="#7ad878"/><rect x="1291.00" y="690.40" width="8.85" height="4.45" fill="#7ad878"/><rect x="1303.75" y="690.40" width="17.35" height="4.45" fill="#7ad878"/><rect x="1295.25" y="694.50" width="21.60" height="4.45" fill="#7ad878"/><rect x="1295.25" y="698.60" width="4.60" height="4.45" fill="#7ad878"/><rect x="1303.75" y="698.60" width="8.85" height="4.45" fill="#7ad878"/><rect x="1316.50" y="698.60" width="4.60" height="4.45" fill="#7ad878"/><rect x="1291.00" y="702.70" width="4.60" height="4.45" fill="#7ad878"/><rect x="1299.50" y="702.70" width="4.60" height="4.45" fill="#7ad878"/><rect x="1308.00" y="702.70" width="8.85" height="4.45" fill="#7ad878"/><rect x="1320.75" y="702.70" width="4.60" height="4.45" fill="#7ad878"/><rect x="1291.00" y="706.80" width="4.60" height="4.45" fill="#7ad878"/><rect x="1299.50" y="706.80" width="4.60" height="4.45" fill="#7ad878"/><rect x="1312.25" y="706.80" width="4.60" height="4.45" fill="#7ad878"/><rect x="1320.75" y="706.80" width="4.60" height="4.45" fill="#7ad878"/><rect x="1295.25" y="710.90" width="4.60" height="4.45" fill="#7ad878"/><rect x="1316.50" y="710.90" width="4.60" height="4.45" fill="#7ad878"/></g><g shape-rendering="crispEdges"><rect x="1467.45" y="739.00" width="9.25" height="4.55" fill="#a07a30"/><rect x="1480.80" y="739.00" width="9.25" height="4.55" fill="#a07a30"/><rect x="1463.00" y="743.20" width="4.80" height="4.55" fill="#a07a30"/><rect x="1476.35" y="743.20" width="4.80" height="4.55" fill="#a07a30"/><rect x="1489.70" y="743.20" width="4.80" height="4.55" fill="#a07a30"/><rect x="1463.00" y="747.40" width="4.80" height="4.55" fill="#a07a30"/><rect x="1476.35" y="747.40" width="4.80" height="4.55" fill="#a07a30"/><rect x="1489.70" y="747.40" width="4.80" height="4.55" fill="#a07a30"/><rect x="1463.00" y="751.60" width="4.80" height="4.55" fill="#a07a30"/><rect x="1471.90" y="751.60" width="4.80" height="4.55" fill="#a07a30"/><rect x="1480.80" y="751.60" width="4.80" height="4.55" fill="#a07a30"/><rect x="1489.70" y="751.60" width="4.80" height="4.55" fill="#a07a30"/><rect x="1467.45" y="755.80" width="4.80" height="4.55" fill="#a07a30"/><rect x="1485.25" y="755.80" width="4.80" height="4.55" fill="#a07a30"/><rect x="1471.90" y="760.00" width="13.70" height="4.55" fill="#a07a30"/></g><g transform="translate(1234.7,792.6) scale(1.0)"><ellipse cx="16.5" cy="7.6" rx="12" ry="7.4" fill="#7ee47a"/><rect x="0" y="5.6" width="33" height="2" fill="#8ee88a"/><rect x="10.5" y="5.6" width="3" height="2.2" fill="#226a22"/><rect x="19.5" y="5.6" width="3" height="2.2" fill="#226a22"/><rect x="11" y="10.3" width="11" height="1.8" fill="#226a22"/></g><g transform="translate(1300.2,792.6) scale(1.0)"><ellipse cx="16.5" cy="7.6" rx="12" ry="7.4" fill="#7ee47a"/><rect x="0" y="5.6" width="33" height="2" fill="#8ee88a"/><rect x="10.5" y="5.6" width="3" height="2.2" fill="#226a22"/><rect x="19.5" y="5.6" width="3" height="2.2" fill="#226a22"/><rect x="11" y="10.3" width="11" height="1.8" fill="#226a22"/></g><g transform="translate(1251.5,811) scale(1.0)"><path d="M4,0 H20 L24,4 V13.2 L20,17.2 H4 L0,13.2 V4 Z" fill="#c88850"/><rect x="8" y="0" width="8" height="17.2" fill="#f2a45c"/><rect x="-1" y="7" width="8" height="3.4" fill="#000"/><rect x="17" y="7" width="8" height="3.4" fill="#000"/><rect x="3" y="3.2" width="5" height="3" fill="#3a2410"/><rect x="16" y="11" width="5" height="3" fill="#3a2410"/><path d="M37,0 H53 L57,4 V13.2 L53,17.2 H37 L33,13.2 V4 Z" fill="#f2a45c"/><rect x="41.5" y="3.4" width="7.5" height="10.399999999999999" fill="#000"/><path d="M70,0 H86 L90,4 V13.2 L86,17.2 H70 L66,13.2 V4 Z" fill="#f2a45c"/><rect x="65" y="4.2" width="15" height="3.2" fill="#000"/><rect x="65" y="10" width="15" height="3.2" fill="#000"/><path d="M103,0 H119 L123,4 V13.2 L119,17.2 H103 L99,13.2 V4 Z" fill="#f2a45c"/><rect x="107.5" y="3.4" width="7.5" height="10.399999999999999" fill="#000"/></g>
</g>
<defs><clipPath id="scr2"><path d="M1022,1062.6 Q1320.75,970.2 1619.5,1062.6 Q1674.5,1292.9499999999998 1619.5,1523.3 Q1320.75,1616.7 1022,1523.3 Q970.8,1292.9499999999998 1022,1062.6 Z"/></clipPath></defs>
<g clip-path="url(#scr2)">
<rect x="991.4" y="1011.4" width="660.6" height="563.6" fill="#16110f"/>
<rect x="991.4" y="1062.6" width="660.6" height="460.70000000000005" fill="#000"/>
<path d="M1011.10,1104.50 H1096.30 V1121.49 H1131.10 V1164.10 H1011.10 Z" fill="#55ccf3"/><rect x="1028.26" y="1113.50" width="17.10" height="8.25" fill="#000"/><rect x="1028.26" y="1129.95" width="17.10" height="8.25" fill="#000"/><rect x="1028.26" y="1147.05" width="17.10" height="8.25" fill="#000"/><rect x="1062.52" y="1113.50" width="17.10" height="8.25" fill="#000"/><rect x="1062.52" y="1129.95" width="17.10" height="8.25" fill="#000"/><rect x="1062.52" y="1147.05" width="17.10" height="8.25" fill="#000"/><rect x="1096.78" y="1129.95" width="17.10" height="8.25" fill="#000"/><rect x="1096.78" y="1147.05" width="17.10" height="8.25" fill="#000"/><path d="M1011.10,1345.50 H1096.30 V1362.49 H1131.10 V1405.10 H1011.10 Z" fill="#55ccf3"/><rect x="1028.26" y="1354.50" width="17.10" height="8.25" fill="#000"/><rect x="1028.26" y="1370.95" width="17.10" height="8.25" fill="#000"/><rect x="1028.26" y="1388.05" width="17.10" height="8.25" fill="#000"/><rect x="1062.52" y="1354.50" width="17.10" height="8.25" fill="#000"/><rect x="1062.52" y="1370.95" width="17.10" height="8.25" fill="#000"/><rect x="1062.52" y="1388.05" width="17.10" height="8.25" fill="#000"/><rect x="1096.78" y="1370.95" width="17.10" height="8.25" fill="#000"/><rect x="1096.78" y="1388.05" width="17.10" height="8.25" fill="#000"/><path d="M1183.00,1104.50 H1268.20 V1121.49 H1303.00 V1164.10 H1183.00 Z" fill="#55ccf3"/><rect x="1200.16" y="1113.50" width="17.10" height="8.25" fill="#000"/><rect x="1200.16" y="1129.95" width="17.10" height="8.25" fill="#000"/><rect x="1200.16" y="1147.05" width="17.10" height="8.25" fill="#000"/><rect x="1234.42" y="1113.50" width="17.10" height="8.25" fill="#000"/><rect x="1234.42" y="1129.95" width="17.10" height="8.25" fill="#000"/><rect x="1234.42" y="1147.05" width="17.10" height="8.25" fill="#000"/><rect x="1268.68" y="1129.95" width="17.10" height="8.25" fill="#000"/><rect x="1268.68" y="1147.05" width="17.10" height="8.25" fill="#000"/><path d="M1183.00,1345.50 H1268.20 V1362.49 H1303.00 V1405.10 H1183.00 Z" fill="#55ccf3"/><rect x="1200.16" y="1354.50" width="17.10" height="8.25" fill="#000"/><rect x="1200.16" y="1370.95" width="17.10" height="8.25" fill="#000"/><rect x="1200.16" y="1388.05" width="17.10" height="8.25" fill="#000"/><rect x="1234.42" y="1354.50" width="17.10" height="8.25" fill="#000"/><rect x="1234.42" y="1370.95" width="17.10" height="8.25" fill="#000"/><rect x="1234.42" y="1388.05" width="17.10" height="8.25" fill="#000"/><rect x="1268.68" y="1370.95" width="17.10" height="8.25" fill="#000"/><rect x="1268.68" y="1388.05" width="17.10" height="8.25" fill="#000"/><path d="M1355.70,1104.50 H1440.90 V1121.49 H1475.70 V1164.10 H1355.70 Z" fill="#55ccf3"/><rect x="1372.86" y="1113.50" width="17.10" height="8.25" fill="#000"/><rect x="1372.86" y="1129.95" width="17.10" height="8.25" fill="#000"/><rect x="1372.86" y="1147.05" width="17.10" height="8.25" fill="#000"/><rect x="1407.12" y="1113.50" width="17.10" height="8.25" fill="#000"/><rect x="1407.12" y="1129.95" width="17.10" height="8.25" fill="#000"/><rect x="1407.12" y="1147.05" width="17.10" height="8.25" fill="#000"/><rect x="1441.38" y="1129.95" width="17.10" height="8.25" fill="#000"/><rect x="1441.38" y="1147.05" width="17.10" height="8.25" fill="#000"/><path d="M1355.70,1345.50 H1440.90 V1362.49 H1475.70 V1405.10 H1355.70 Z" fill="#55ccf3"/><rect x="1372.86" y="1354.50" width="17.10" height="8.25" fill="#000"/><rect x="1372.86" y="1370.95" width="17.10" height="8.25" fill="#000"/><rect x="1372.86" y="1388.05" width="17.10" height="8.25" fill="#000"/><rect x="1407.12" y="1354.50" width="17.10" height="8.25" fill="#000"/><rect x="1407.12" y="1370.95" width="17.10" height="8.25" fill="#000"/><rect x="1407.12" y="1388.05" width="17.10" height="8.25" fill="#000"/><rect x="1441.38" y="1370.95" width="17.10" height="8.25" fill="#000"/><rect x="1441.38" y="1388.05" width="17.10" height="8.25" fill="#000"/><path d="M1527.60,1104.50 H1612.80 V1121.49 H1647.60 V1164.10 H1527.60 Z" fill="#55ccf3"/><rect x="1544.76" y="1113.50" width="17.10" height="8.25" fill="#000"/><rect x="1544.76" y="1129.95" width="17.10" height="8.25" fill="#000"/><rect x="1544.76" y="1147.05" width="17.10" height="8.25" fill="#000"/><rect x="1579.02" y="1113.50" width="17.10" height="8.25" fill="#000"/><rect x="1579.02" y="1129.95" width="17.10" height="8.25" fill="#000"/><rect x="1579.02" y="1147.05" width="17.10" height="8.25" fill="#000"/><rect x="1613.28" y="1129.95" width="17.10" height="8.25" fill="#000"/><rect x="1613.28" y="1147.05" width="17.10" height="8.25" fill="#000"/><path d="M1527.60,1345.50 H1612.80 V1362.49 H1647.60 V1405.10 H1527.60 Z" fill="#55ccf3"/><rect x="1544.76" y="1354.50" width="17.10" height="8.25" fill="#000"/><rect x="1544.76" y="1370.95" width="17.10" height="8.25" fill="#000"/><rect x="1544.76" y="1388.05" width="17.10" height="8.25" fill="#000"/><rect x="1579.02" y="1354.50" width="17.10" height="8.25" fill="#000"/><rect x="1579.02" y="1370.95" width="17.10" height="8.25" fill="#000"/><rect x="1579.02" y="1388.05" width="17.10" height="8.25" fill="#000"/><rect x="1613.28" y="1370.95" width="17.10" height="8.25" fill="#000"/><rect x="1613.28" y="1388.05" width="17.10" height="8.25" fill="#000"/><path d="M942.80,1224.60 H1028.00 V1241.59 H1062.80 V1284.20 H942.80 Z" fill="#55ccf3"/><rect x="959.96" y="1233.60" width="17.10" height="8.25" fill="#000"/><rect x="959.96" y="1250.05" width="17.10" height="8.25" fill="#000"/><rect x="959.96" y="1267.15" width="17.10" height="8.25" fill="#000"/><rect x="994.22" y="1233.60" width="17.10" height="8.25" fill="#000"/><rect x="994.22" y="1250.05" width="17.10" height="8.25" fill="#000"/><rect x="994.22" y="1267.15" width="17.10" height="8.25" fill="#000"/><rect x="1028.48" y="1250.05" width="17.10" height="8.25" fill="#000"/><rect x="1028.48" y="1267.15" width="17.10" height="8.25" fill="#000"/><path d="M1114.70,1224.60 H1199.90 V1241.59 H1234.70 V1284.20 H1114.70 Z" fill="#55ccf3"/><rect x="1131.86" y="1233.60" width="17.10" height="8.25" fill="#000"/><rect x="1131.86" y="1250.05" width="17.10" height="8.25" fill="#000"/><rect x="1131.86" y="1267.15" width="17.10" height="8.25" fill="#000"/><rect x="1166.12" y="1233.60" width="17.10" height="8.25" fill="#000"/><rect x="1166.12" y="1250.05" width="17.10" height="8.25" fill="#000"/><rect x="1166.12" y="1267.15" width="17.10" height="8.25" fill="#000"/><rect x="1200.38" y="1250.05" width="17.10" height="8.25" fill="#000"/><rect x="1200.38" y="1267.15" width="17.10" height="8.25" fill="#000"/><path d="M1286.60,1224.60 H1371.80 V1241.59 H1406.60 V1284.20 H1286.60 Z" fill="#55ccf3"/><rect x="1303.76" y="1233.60" width="17.10" height="8.25" fill="#000"/><rect x="1303.76" y="1250.05" width="17.10" height="8.25" fill="#000"/><rect x="1303.76" y="1267.15" width="17.10" height="8.25" fill="#000"/><rect x="1338.02" y="1233.60" width="17.10" height="8.25" fill="#000"/><rect x="1338.02" y="1250.05" width="17.10" height="8.25" fill="#000"/><rect x="1338.02" y="1267.15" width="17.10" height="8.25" fill="#000"/><rect x="1372.28" y="1250.05" width="17.10" height="8.25" fill="#000"/><rect x="1372.28" y="1267.15" width="17.10" height="8.25" fill="#000"/><path d="M1459.30,1224.60 H1544.50 V1241.59 H1579.30 V1284.20 H1459.30 Z" fill="#55ccf3"/><rect x="1476.46" y="1233.60" width="17.10" height="8.25" fill="#000"/><rect x="1476.46" y="1250.05" width="17.10" height="8.25" fill="#000"/><rect x="1476.46" y="1267.15" width="17.10" height="8.25" fill="#000"/><rect x="1510.72" y="1233.60" width="17.10" height="8.25" fill="#000"/><rect x="1510.72" y="1250.05" width="17.10" height="8.25" fill="#000"/><rect x="1510.72" y="1267.15" width="17.10" height="8.25" fill="#000"/><rect x="1544.98" y="1250.05" width="17.10" height="8.25" fill="#000"/><rect x="1544.98" y="1267.15" width="17.10" height="8.25" fill="#000"/><path d="M1631.20,1224.60 H1716.40 V1241.59 H1751.20 V1284.20 H1631.20 Z" fill="#55ccf3"/><rect x="1648.36" y="1233.60" width="17.10" height="8.25" fill="#000"/><rect x="1648.36" y="1250.05" width="17.10" height="8.25" fill="#000"/><rect x="1648.36" y="1267.15" width="17.10" height="8.25" fill="#000"/><rect x="1682.62" y="1233.60" width="17.10" height="8.25" fill="#000"/><rect x="1682.62" y="1250.05" width="17.10" height="8.25" fill="#000"/><rect x="1682.62" y="1267.15" width="17.10" height="8.25" fill="#000"/><rect x="1716.88" y="1250.05" width="17.10" height="8.25" fill="#000"/><rect x="1716.88" y="1267.15" width="17.10" height="8.25" fill="#000"/><g shape-rendering="crispEdges"><rect x="1136.40" y="1164.50" width="4.95" height="4.75" fill="#f8f050"/><rect x="1131.80" y="1168.90" width="4.95" height="4.75" fill="#f8f050"/><rect x="1141.00" y="1168.90" width="4.95" height="4.75" fill="#f8f050"/><rect x="1127.20" y="1173.30" width="23.35" height="4.75" fill="#f8f050"/><rect x="1122.60" y="1177.70" width="4.95" height="4.75" fill="#f8f050"/><rect x="1131.80" y="1177.70" width="9.55" height="4.75" fill="#f8f050"/><rect x="1145.60" y="1177.70" width="4.95" height="4.75" fill="#f8f050"/><rect x="1118.00" y="1182.10" width="32.55" height="4.75" fill="#f8f050"/></g><g shape-rendering="crispEdges"><rect x="1159.40" y="1169.00" width="14.15" height="4.70" fill="#7ad878"/><rect x="1150.20" y="1173.35" width="9.55" height="4.70" fill="#7ad878"/><rect x="1164.00" y="1173.35" width="9.55" height="4.70" fill="#7ad878"/><rect x="1159.40" y="1177.70" width="9.55" height="4.70" fill="#7ad878"/><rect x="1164.00" y="1182.05" width="9.55" height="4.70" fill="#7ad878"/><rect x="1141.00" y="1186.40" width="9.55" height="4.70" fill="#7ad878"/><rect x="1154.80" y="1186.40" width="18.75" height="4.70" fill="#7ad878"/><rect x="1145.60" y="1190.75" width="23.35" height="4.70" fill="#7ad878"/><rect x="1145.60" y="1195.10" width="4.95" height="4.70" fill="#7ad878"/><rect x="1154.80" y="1195.10" width="9.55" height="4.70" fill="#7ad878"/><rect x="1168.60" y="1195.10" width="4.95" height="4.70" fill="#7ad878"/><rect x="1141.00" y="1199.45" width="4.95" height="4.70" fill="#7ad878"/><rect x="1150.20" y="1199.45" width="4.95" height="4.70" fill="#7ad878"/><rect x="1159.40" y="1199.45" width="9.55" height="4.70" fill="#7ad878"/><rect x="1173.20" y="1199.45" width="4.95" height="4.70" fill="#7ad878"/><rect x="1141.00" y="1203.80" width="4.95" height="4.70" fill="#7ad878"/><rect x="1150.20" y="1203.80" width="4.95" height="4.70" fill="#7ad878"/><rect x="1164.00" y="1203.80" width="4.95" height="4.70" fill="#7ad878"/><rect x="1173.20" y="1203.80" width="4.95" height="4.70" fill="#7ad878"/><rect x="1145.60" y="1208.15" width="4.95" height="4.70" fill="#7ad878"/><rect x="1168.60" y="1208.15" width="4.95" height="4.70" fill="#7ad878"/></g><g shape-rendering="crispEdges"><rect x="1286.50" y="1198.60" width="8.95" height="4.68" fill="#f4ec50"/><rect x="1269.30" y="1202.93" width="43.35" height="4.68" fill="#f4ec50"/><rect x="1269.30" y="1207.26" width="8.95" height="4.68" fill="#f4ec50"/><rect x="1286.50" y="1207.26" width="8.95" height="4.68" fill="#f4ec50"/><rect x="1303.70" y="1207.26" width="8.95" height="4.68" fill="#f4ec50"/><rect x="1260.70" y="1211.59" width="8.95" height="4.68" fill="#f4ec50"/><rect x="1277.90" y="1211.59" width="8.95" height="4.68" fill="#f4ec50"/><rect x="1295.10" y="1211.59" width="8.95" height="4.68" fill="#f4ec50"/><rect x="1312.30" y="1211.59" width="8.95" height="4.68" fill="#f4ec50"/><rect x="1260.70" y="1215.92" width="60.55" height="4.68" fill="#f4ec50"/><rect x="1269.30" y="1220.25" width="8.95" height="4.68" fill="#f4ec50"/><rect x="1303.70" y="1220.25" width="8.95" height="4.68" fill="#f4ec50"/></g><g shape-rendering="crispEdges"><rect x="1535.80" y="1293.60" width="8.95" height="4.68" fill="#f4ec50"/><rect x="1518.60" y="1297.93" width="43.35" height="4.68" fill="#f4ec50"/><rect x="1518.60" y="1302.26" width="8.95" height="4.68" fill="#f4ec50"/><rect x="1535.80" y="1302.26" width="8.95" height="4.68" fill="#f4ec50"/><rect x="1553.00" y="1302.26" width="8.95" height="4.68" fill="#f4ec50"/><rect x="1510.00" y="1306.59" width="8.95" height="4.68" fill="#f4ec50"/><rect x="1527.20" y="1306.59" width="8.95" height="4.68" fill="#f4ec50"/><rect x="1544.40" y="1306.59" width="8.95" height="4.68" fill="#f4ec50"/><rect x="1561.60" y="1306.59" width="8.95" height="4.68" fill="#f4ec50"/><rect x="1510.00" y="1310.92" width="60.55" height="4.68" fill="#f4ec50"/><rect x="1518.60" y="1315.25" width="8.95" height="4.68" fill="#f4ec50"/><rect x="1553.00" y="1315.25" width="8.95" height="4.68" fill="#f4ec50"/></g><g shape-rendering="crispEdges"><rect x="1152.85" y="1375.70" width="9.25" height="4.65" fill="#a07a30"/><rect x="1166.20" y="1375.70" width="9.25" height="4.65" fill="#a07a30"/><rect x="1148.40" y="1380.00" width="4.80" height="4.65" fill="#a07a30"/><rect x="1161.75" y="1380.00" width="4.80" height="4.65" fill="#a07a30"/><rect x="1175.10" y="1380.00" width="4.80" height="4.65" fill="#a07a30"/><rect x="1148.40" y="1384.30" width="4.80" height="4.65" fill="#a07a30"/><rect x="1161.75" y="1384.30" width="4.80" height="4.65" fill="#a07a30"/><rect x="1175.10" y="1384.30" width="4.80" height="4.65" fill="#a07a30"/><rect x="1148.40" y="1388.60" width="4.80" height="4.65" fill="#a07a30"/><rect x="1157.30" y="1388.60" width="4.80" height="4.65" fill="#a07a30"/><rect x="1166.20" y="1388.60" width="4.80" height="4.65" fill="#a07a30"/><rect x="1175.10" y="1388.60" width="4.80" height="4.65" fill="#a07a30"/><rect x="1152.85" y="1392.90" width="4.80" height="4.65" fill="#a07a30"/><rect x="1170.65" y="1392.90" width="4.80" height="4.65" fill="#a07a30"/><rect x="1157.30" y="1397.20" width="13.70" height="4.65" fill="#a07a30"/></g><g transform="translate(1247.9,1432.2) scale(1.04)"><ellipse cx="16.5" cy="7.6" rx="12" ry="7.4" fill="#7ee47a"/><rect x="0" y="5.6" width="33" height="2" fill="#8ee88a"/><rect x="10.5" y="5.6" width="3" height="2.2" fill="#226a22"/><rect x="19.5" y="5.6" width="3" height="2.2" fill="#226a22"/><rect x="11" y="10.3" width="11" height="1.8" fill="#226a22"/></g><g transform="translate(1317.5,1432.2) scale(1.04)"><ellipse cx="16.5" cy="7.6" rx="12" ry="7.4" fill="#7ee47a"/><rect x="0" y="5.6" width="33" height="2" fill="#8ee88a"/><rect x="10.5" y="5.6" width="3" height="2.2" fill="#226a22"/><rect x="19.5" y="5.6" width="3" height="2.2" fill="#226a22"/><rect x="11" y="10.3" width="11" height="1.8" fill="#226a22"/></g><g transform="translate(1264.7,1451.2) scale(1.045)"><path d="M4,0 H20 L24,4 V13.2 L20,17.2 H4 L0,13.2 V4 Z" fill="#c88850"/><rect x="8" y="0" width="8" height="17.2" fill="#f2a45c"/><rect x="-1" y="7" width="8" height="3.4" fill="#000"/><rect x="17" y="7" width="8" height="3.4" fill="#000"/><rect x="3" y="3.2" width="5" height="3" fill="#3a2410"/><rect x="16" y="11" width="5" height="3" fill="#3a2410"/><path d="M37,0 H53 L57,4 V13.2 L53,17.2 H37 L33,13.2 V4 Z" fill="#f2a45c"/><rect x="41.5" y="3.4" width="7.5" height="10.399999999999999" fill="#000"/><path d="M69,0 H87 L90,3 V14.2 L87,17.2 H69 L66,14.2 V3 Z" fill="#f2a45c"/><rect x="72" y="-1" width="8" height="8.5" fill="#000"/><rect x="65" y="11.5" width="14" height="7" fill="#000"/><rect x="82" y="11.5" width="9" height="7" fill="#000"/><path d="M103,0 H119 L123,4 V13.2 L119,17.2 H103 L99,13.2 V4 Z" fill="#f2a45c"/><rect x="107.5" y="3.4" width="7.5" height="10.399999999999999" fill="#000"/></g>
</g>
<defs><clipPath id="scr3"><path d="M1022,1713.4 Q1320.75,1616.6 1619.5,1713.4 Q1674.5,1943.3500000000001 1619.5,2173.3 Q1320.75,2264.0999999999995 1022,2173.3 Q970.8,1943.3500000000001 1022,1713.4 Z"/></clipPath></defs>
<g clip-path="url(#scr3)">
<rect x="991.4" y="1660" width="660.6" height="563.6999999999998" fill="#16110f"/>
<rect x="991.4" y="1713.4" width="660.6" height="459.9000000000001" fill="#000"/>
<path d="M1009.40,1763.00 H1090.34 V1779.02 H1123.40 V1819.20 H1009.40 Z" fill="#55ccf3"/><rect x="1025.70" y="1771.49" width="16.24" height="7.78" fill="#000"/><rect x="1025.70" y="1787.00" width="16.24" height="7.78" fill="#000"/><rect x="1025.70" y="1803.13" width="16.24" height="7.78" fill="#000"/><rect x="1058.25" y="1771.49" width="16.24" height="7.78" fill="#000"/><rect x="1058.25" y="1787.00" width="16.24" height="7.78" fill="#000"/><rect x="1058.25" y="1803.13" width="16.24" height="7.78" fill="#000"/><rect x="1090.80" y="1787.00" width="16.24" height="7.78" fill="#000"/><rect x="1090.80" y="1803.13" width="16.24" height="7.78" fill="#000"/><path d="M1009.40,1992.00 H1090.34 V2008.02 H1123.40 V2048.20 H1009.40 Z" fill="#55ccf3"/><rect x="1025.70" y="2000.49" width="16.24" height="7.78" fill="#000"/><rect x="1025.70" y="2016.00" width="16.24" height="7.78" fill="#000"/><rect x="1025.70" y="2032.13" width="16.24" height="7.78" fill="#000"/><rect x="1058.25" y="2000.49" width="16.24" height="7.78" fill="#000"/><rect x="1058.25" y="2016.00" width="16.24" height="7.78" fill="#000"/><rect x="1058.25" y="2032.13" width="16.24" height="7.78" fill="#000"/><rect x="1090.80" y="2016.00" width="16.24" height="7.78" fill="#000"/><rect x="1090.80" y="2032.13" width="16.24" height="7.78" fill="#000"/><path d="M1173.00,1763.00 H1253.94 V1779.02 H1287.00 V1819.20 H1173.00 Z" fill="#55ccf3"/><rect x="1189.30" y="1771.49" width="16.24" height="7.78" fill="#000"/><rect x="1189.30" y="1787.00" width="16.24" height="7.78" fill="#000"/><rect x="1189.30" y="1803.13" width="16.24" height="7.78" fill="#000"/><rect x="1221.85" y="1771.49" width="16.24" height="7.78" fill="#000"/><rect x="1221.85" y="1787.00" width="16.24" height="7.78" fill="#000"/><rect x="1221.85" y="1803.13" width="16.24" height="7.78" fill="#000"/><rect x="1254.40" y="1787.00" width="16.24" height="7.78" fill="#000"/><rect x="1254.40" y="1803.13" width="16.24" height="7.78" fill="#000"/><path d="M1173.00,1992.00 H1253.94 V2008.02 H1287.00 V2048.20 H1173.00 Z" fill="#55ccf3"/><rect x="1189.30" y="2000.49" width="16.24" height="7.78" fill="#000"/><rect x="1189.30" y="2016.00" width="16.24" height="7.78" fill="#000"/><rect x="1189.30" y="2032.13" width="16.24" height="7.78" fill="#000"/><rect x="1221.85" y="2000.49" width="16.24" height="7.78" fill="#000"/><rect x="1221.85" y="2016.00" width="16.24" height="7.78" fill="#000"/><rect x="1221.85" y="2032.13" width="16.24" height="7.78" fill="#000"/><rect x="1254.40" y="2016.00" width="16.24" height="7.78" fill="#000"/><rect x="1254.40" y="2032.13" width="16.24" height="7.78" fill="#000"/><path d="M1336.70,1763.00 H1417.64 V1779.02 H1450.70 V1819.20 H1336.70 Z" fill="#55ccf3"/><rect x="1353.00" y="1771.49" width="16.24" height="7.78" fill="#000"/><rect x="1353.00" y="1787.00" width="16.24" height="7.78" fill="#000"/><rect x="1353.00" y="1803.13" width="16.24" height="7.78" fill="#000"/><rect x="1385.55" y="1771.49" width="16.24" height="7.78" fill="#000"/><rect x="1385.55" y="1787.00" width="16.24" height="7.78" fill="#000"/><rect x="1385.55" y="1803.13" width="16.24" height="7.78" fill="#000"/><rect x="1418.10" y="1787.00" width="16.24" height="7.78" fill="#000"/><rect x="1418.10" y="1803.13" width="16.24" height="7.78" fill="#000"/><path d="M1336.70,1992.00 H1417.64 V2008.02 H1450.70 V2048.20 H1336.70 Z" fill="#55ccf3"/><rect x="1353.00" y="2000.49" width="16.24" height="7.78" fill="#000"/><rect x="1353.00" y="2016.00" width="16.24" height="7.78" fill="#000"/><rect x="1353.00" y="2032.13" width="16.24" height="7.78" fill="#000"/><rect x="1385.55" y="2000.49" width="16.24" height="7.78" fill="#000"/><rect x="1385.55" y="2016.00" width="16.24" height="7.78" fill="#000"/><rect x="1385.55" y="2032.13" width="16.24" height="7.78" fill="#000"/><rect x="1418.10" y="2016.00" width="16.24" height="7.78" fill="#000"/><rect x="1418.10" y="2032.13" width="16.24" height="7.78" fill="#000"/><path d="M1500.40,1763.00 H1581.34 V1779.02 H1614.40 V1819.20 H1500.40 Z" fill="#55ccf3"/><rect x="1516.70" y="1771.49" width="16.24" height="7.78" fill="#000"/><rect x="1516.70" y="1787.00" width="16.24" height="7.78" fill="#000"/><rect x="1516.70" y="1803.13" width="16.24" height="7.78" fill="#000"/><rect x="1549.25" y="1771.49" width="16.24" height="7.78" fill="#000"/><rect x="1549.25" y="1787.00" width="16.24" height="7.78" fill="#000"/><rect x="1549.25" y="1803.13" width="16.24" height="7.78" fill="#000"/><rect x="1581.80" y="1787.00" width="16.24" height="7.78" fill="#000"/><rect x="1581.80" y="1803.13" width="16.24" height="7.78" fill="#000"/><path d="M1500.40,1992.00 H1581.34 V2008.02 H1614.40 V2048.20 H1500.40 Z" fill="#55ccf3"/><rect x="1516.70" y="2000.49" width="16.24" height="7.78" fill="#000"/><rect x="1516.70" y="2016.00" width="16.24" height="7.78" fill="#000"/><rect x="1516.70" y="2032.13" width="16.24" height="7.78" fill="#000"/><rect x="1549.25" y="2000.49" width="16.24" height="7.78" fill="#000"/><rect x="1549.25" y="2016.00" width="16.24" height="7.78" fill="#000"/><rect x="1549.25" y="2032.13" width="16.24" height="7.78" fill="#000"/><rect x="1581.80" y="2016.00" width="16.24" height="7.78" fill="#000"/><rect x="1581.80" y="2032.13" width="16.24" height="7.78" fill="#000"/><path d="M943.70,1877.50 H1024.64 V1893.52 H1057.70 V1933.70 H943.70 Z" fill="#55ccf3"/><rect x="960.00" y="1885.99" width="16.24" height="7.78" fill="#000"/><rect x="960.00" y="1901.50" width="16.24" height="7.78" fill="#000"/><rect x="960.00" y="1917.63" width="16.24" height="7.78" fill="#000"/><rect x="992.55" y="1885.99" width="16.24" height="7.78" fill="#000"/><rect x="992.55" y="1901.50" width="16.24" height="7.78" fill="#000"/><rect x="992.55" y="1917.63" width="16.24" height="7.78" fill="#000"/><rect x="1025.10" y="1901.50" width="16.24" height="7.78" fill="#000"/><rect x="1025.10" y="1917.63" width="16.24" height="7.78" fill="#000"/><path d="M1107.40,1877.50 H1188.34 V1893.52 H1221.40 V1933.70 H1107.40 Z" fill="#55ccf3"/><rect x="1123.70" y="1885.99" width="16.24" height="7.78" fill="#000"/><rect x="1123.70" y="1901.50" width="16.24" height="7.78" fill="#000"/><rect x="1123.70" y="1917.63" width="16.24" height="7.78" fill="#000"/><rect x="1156.25" y="1885.99" width="16.24" height="7.78" fill="#000"/><rect x="1156.25" y="1901.50" width="16.24" height="7.78" fill="#000"/><rect x="1156.25" y="1917.63" width="16.24" height="7.78" fill="#000"/><rect x="1188.80" y="1901.50" width="16.24" height="7.78" fill="#000"/><rect x="1188.80" y="1917.63" width="16.24" height="7.78" fill="#000"/><path d="M1270.60,1877.50 H1351.54 V1893.52 H1384.60 V1933.70 H1270.60 Z" fill="#55ccf3"/><rect x="1286.90" y="1885.99" width="16.24" height="7.78" fill="#000"/><rect x="1286.90" y="1901.50" width="16.24" height="7.78" fill="#000"/><rect x="1286.90" y="1917.63" width="16.24" height="7.78" fill="#000"/><rect x="1319.45" y="1885.99" width="16.24" height="7.78" fill="#000"/><rect x="1319.45" y="1901.50" width="16.24" height="7.78" fill="#000"/><rect x="1319.45" y="1917.63" width="16.24" height="7.78" fill="#000"/><rect x="1352.00" y="1901.50" width="16.24" height="7.78" fill="#000"/><rect x="1352.00" y="1917.63" width="16.24" height="7.78" fill="#000"/><path d="M1434.30,1877.50 H1515.24 V1893.52 H1548.30 V1933.70 H1434.30 Z" fill="#55ccf3"/><rect x="1450.60" y="1885.99" width="16.24" height="7.78" fill="#000"/><rect x="1450.60" y="1901.50" width="16.24" height="7.78" fill="#000"/><rect x="1450.60" y="1917.63" width="16.24" height="7.78" fill="#000"/><rect x="1483.15" y="1885.99" width="16.24" height="7.78" fill="#000"/><rect x="1483.15" y="1901.50" width="16.24" height="7.78" fill="#000"/><rect x="1483.15" y="1917.63" width="16.24" height="7.78" fill="#000"/><rect x="1515.70" y="1901.50" width="16.24" height="7.78" fill="#000"/><rect x="1515.70" y="1917.63" width="16.24" height="7.78" fill="#000"/><path d="M1597.50,1877.50 H1678.44 V1893.52 H1711.50 V1933.70 H1597.50 Z" fill="#55ccf3"/><rect x="1613.80" y="1885.99" width="16.24" height="7.78" fill="#000"/><rect x="1613.80" y="1901.50" width="16.24" height="7.78" fill="#000"/><rect x="1613.80" y="1917.63" width="16.24" height="7.78" fill="#000"/><rect x="1646.35" y="1885.99" width="16.24" height="7.78" fill="#000"/><rect x="1646.35" y="1901.50" width="16.24" height="7.78" fill="#000"/><rect x="1646.35" y="1917.63" width="16.24" height="7.78" fill="#000"/><rect x="1678.90" y="1901.50" width="16.24" height="7.78" fill="#000"/><rect x="1678.90" y="1917.63" width="16.24" height="7.78" fill="#000"/><g shape-rendering="crispEdges"><rect x="1356.75" y="1832.40" width="4.40" height="4.45" fill="#86ec84"/><rect x="1377.00" y="1832.40" width="4.40" height="4.45" fill="#86ec84"/><rect x="1352.70" y="1836.50" width="4.40" height="4.45" fill="#86ec84"/><rect x="1360.80" y="1836.50" width="4.40" height="4.45" fill="#86ec84"/><rect x="1372.95" y="1836.50" width="4.40" height="4.45" fill="#86ec84"/><rect x="1381.05" y="1836.50" width="4.40" height="4.45" fill="#86ec84"/><rect x="1352.70" y="1840.60" width="4.40" height="4.45" fill="#86ec84"/><rect x="1360.80" y="1840.60" width="4.40" height="4.45" fill="#86ec84"/><rect x="1368.90" y="1840.60" width="8.45" height="4.45" fill="#86ec84"/><rect x="1381.05" y="1840.60" width="4.40" height="4.45" fill="#86ec84"/><rect x="1356.75" y="1844.70" width="4.40" height="4.45" fill="#86ec84"/><rect x="1364.85" y="1844.70" width="8.45" height="4.45" fill="#86ec84"/><rect x="1377.00" y="1844.70" width="4.40" height="4.45" fill="#86ec84"/><rect x="1356.75" y="1848.80" width="20.60" height="4.45" fill="#86ec84"/><rect x="1352.70" y="1852.90" width="8.45" height="4.45" fill="#86ec84"/><rect x="1364.85" y="1852.90" width="16.55" height="4.45" fill="#86ec84"/><rect x="1372.95" y="1857.00" width="8.45" height="4.45" fill="#86ec84"/><rect x="1368.90" y="1861.10" width="8.45" height="4.45" fill="#86ec84"/><rect x="1360.80" y="1865.20" width="8.45" height="4.45" fill="#86ec84"/><rect x="1372.95" y="1865.20" width="8.45" height="4.45" fill="#86ec84"/><rect x="1368.90" y="1869.30" width="12.50" height="4.45" fill="#86ec84"/></g><g shape-rendering="crispEdges"><rect x="1254.60" y="1885.50" width="31.50" height="4.45" fill="#e86464"/><rect x="1254.60" y="1889.60" width="9.25" height="4.45" fill="#e86464"/><rect x="1254.60" y="1893.70" width="9.25" height="4.45" fill="#e86464"/><rect x="1272.40" y="1893.70" width="13.70" height="4.45" fill="#e86464"/><rect x="1254.60" y="1897.80" width="9.25" height="4.45" fill="#e86464"/><rect x="1276.85" y="1897.80" width="9.25" height="4.45" fill="#e86464"/><rect x="1254.60" y="1901.90" width="31.50" height="4.45" fill="#e86464"/></g><g shape-rendering="crispEdges"><rect x="1289.50" y="1885.50" width="27.05" height="4.45" fill="#e86464"/><rect x="1289.50" y="1889.60" width="9.25" height="4.45" fill="#e86464"/><rect x="1311.75" y="1889.60" width="9.25" height="4.45" fill="#e86464"/><rect x="1289.50" y="1893.70" width="31.50" height="4.45" fill="#e86464"/><rect x="1289.50" y="1897.80" width="9.25" height="4.45" fill="#e86464"/><rect x="1311.75" y="1897.80" width="9.25" height="4.45" fill="#e86464"/><rect x="1289.50" y="1901.90" width="9.25" height="4.45" fill="#e86464"/><rect x="1311.75" y="1901.90" width="9.25" height="4.45" fill="#e86464"/></g><g shape-rendering="crispEdges"><rect x="1324.40" y="1885.50" width="13.70" height="4.45" fill="#e86464"/><rect x="1342.20" y="1885.50" width="13.70" height="4.45" fill="#e86464"/><rect x="1324.40" y="1889.60" width="9.25" height="4.45" fill="#e86464"/><rect x="1337.75" y="1889.60" width="4.80" height="4.45" fill="#e86464"/><rect x="1346.65" y="1889.60" width="9.25" height="4.45" fill="#e86464"/><rect x="1324.40" y="1893.70" width="9.25" height="4.45" fill="#e86464"/><rect x="1337.75" y="1893.70" width="4.80" height="4.45" fill="#e86464"/><rect x="1346.65" y="1893.70" width="9.25" height="4.45" fill="#e86464"/><rect x="1324.40" y="1897.80" width="9.25" height="4.45" fill="#e86464"/><rect x="1346.65" y="1897.80" width="9.25" height="4.45" fill="#e86464"/><rect x="1324.40" y="1901.90" width="9.25" height="4.45" fill="#e86464"/><rect x="1346.65" y="1901.90" width="9.25" height="4.45" fill="#e86464"/></g><g shape-rendering="crispEdges"><rect x="1359.30" y="1885.50" width="31.50" height="4.45" fill="#e86464"/><rect x="1359.30" y="1889.60" width="9.25" height="4.45" fill="#e86464"/><rect x="1359.30" y="1893.70" width="27.05" height="4.45" fill="#e86464"/><rect x="1359.30" y="1897.80" width="9.25" height="4.45" fill="#e86464"/><rect x="1359.30" y="1901.90" width="31.50" height="4.45" fill="#e86464"/></g><g shape-rendering="crispEdges"><rect x="1259.05" y="1910.50" width="22.60" height="4.45" fill="#e86464"/><rect x="1254.60" y="1914.60" width="9.25" height="4.45" fill="#e86464"/><rect x="1276.85" y="1914.60" width="9.25" height="4.45" fill="#e86464"/><rect x="1254.60" y="1918.70" width="9.25" height="4.45" fill="#e86464"/><rect x="1276.85" y="1918.70" width="9.25" height="4.45" fill="#e86464"/><rect x="1254.60" y="1922.80" width="9.25" height="4.45" fill="#e86464"/><rect x="1276.85" y="1922.80" width="9.25" height="4.45" fill="#e86464"/><rect x="1259.05" y="1926.90" width="22.60" height="4.45" fill="#e86464"/></g><g shape-rendering="crispEdges"><rect x="1289.50" y="1910.50" width="9.25" height="4.45" fill="#e86464"/><rect x="1311.75" y="1910.50" width="9.25" height="4.45" fill="#e86464"/><rect x="1289.50" y="1914.60" width="9.25" height="4.45" fill="#e86464"/><rect x="1311.75" y="1914.60" width="9.25" height="4.45" fill="#e86464"/><rect x="1289.50" y="1918.70" width="9.25" height="4.45" fill="#e86464"/><rect x="1311.75" y="1918.70" width="9.25" height="4.45" fill="#e86464"/><rect x="1293.95" y="1922.80" width="9.25" height="4.45" fill="#e86464"/><rect x="1307.30" y="1922.80" width="9.25" height="4.45" fill="#e86464"/><rect x="1298.40" y="1926.90" width="13.70" height="4.45" fill="#e86464"/></g><g shape-rendering="crispEdges"><rect x="1324.40" y="1910.50" width="31.50" height="4.45" fill="#e86464"/><rect x="1324.40" y="1914.60" width="9.25" height="4.45" fill="#e86464"/><rect x="1324.40" y="1918.70" width="27.05" height="4.45" fill="#e86464"/><rect x="1324.40" y="1922.80" width="9.25" height="4.45" fill="#e86464"/><rect x="1324.40" y="1926.90" width="31.50" height="4.45" fill="#e86464"/></g><g shape-rendering="crispEdges"><rect x="1359.30" y="1910.50" width="27.05" height="4.45" fill="#e86464"/><rect x="1359.30" y="1914.60" width="9.25" height="4.45" fill="#e86464"/><rect x="1381.55" y="1914.60" width="9.25" height="4.45" fill="#e86464"/><rect x="1359.30" y="1918.70" width="27.05" height="4.45" fill="#e86464"/><rect x="1359.30" y="1922.80" width="9.25" height="4.45" fill="#e86464"/><rect x="1377.10" y="1922.80" width="9.25" height="4.45" fill="#e86464"/><rect x="1359.30" y="1926.90" width="9.25" height="4.45" fill="#e86464"/><rect x="1381.55" y="1926.90" width="9.25" height="4.45" fill="#e86464"/></g><rect x="1287.5" y="1885.5" width="8.5" height="7.5" fill="#000"/><rect x="1287.5" y="1898" width="8.5" height="7.5" fill="#000"/><rect x="1287.5" y="1914.5" width="8.5" height="7.5" fill="#000"/><rect x="1287.5" y="1923" width="8.5" height="7.5" fill="#000"/><rect x="1322.4" y="1885.5" width="8.5" height="7.5" fill="#000"/><rect x="1322.4" y="1898" width="8.5" height="7.5" fill="#000"/><rect x="1322.4" y="1914.5" width="8.5" height="7.5" fill="#000"/><rect x="1322.4" y="1923" width="8.5" height="7.5" fill="#000"/><rect x="1357.3" y="1885.5" width="8.5" height="7.5" fill="#000"/><rect x="1357.3" y="1898" width="8.5" height="7.5" fill="#000"/><rect x="1357.3" y="1914.5" width="8.5" height="7.5" fill="#000"/><rect x="1357.3" y="1923" width="8.5" height="7.5" fill="#000"/><rect x="1388" y="1906" width="6" height="25" fill="#000"/><rect x="1268" y="1910" width="4" height="20" fill="#000"/><g transform="translate(1251.5,2091) scale(1.0)"><path d="M4,0 H20 L24,4 V13.2 L20,17.2 H4 L0,13.2 V4 Z" fill="#c88850"/><rect x="8" y="0" width="8" height="17.2" fill="#f2a45c"/><rect x="-1" y="7" width="8" height="3.4" fill="#000"/><rect x="17" y="7" width="8" height="3.4" fill="#000"/><rect x="3" y="3.2" width="5" height="3" fill="#3a2410"/><rect x="16" y="11" width="5" height="3" fill="#3a2410"/><path d="M37,0 H53 L57,4 V13.2 L53,17.2 H37 L33,13.2 V4 Z" fill="#f2a45c"/><rect x="41.5" y="3.4" width="7.5" height="10.399999999999999" fill="#000"/><path d="M70,0 H86 L90,4 V13.2 L86,17.2 H70 L66,13.2 V4 Z" fill="#f2a45c"/><rect x="74.5" y="3.4" width="7.5" height="10.399999999999999" fill="#000"/><path d="M103,0 H119 L123,4 V13.2 L119,17.2 H103 L99,13.2 V4 Z" fill="#f2a45c"/><rect x="107.5" y="3.4" width="7.5" height="10.399999999999999" fill="#000"/></g>
</g>
<path d="M1068,1583 V1439 H1222" fill="none" stroke="#f8e820" stroke-width="6"/>
<path d="M1239.6,1439.2 L1215.5,1430.4 L1215.5,1447.9 Z" fill="#f8e820"/>
<path d="M1569.5,1583 V1460 H1425" fill="none" stroke="#f8e820" stroke-width="6"/>
<path d="M1407.5,1460 L1431.5,1451.2 L1431.5,1468.8 Z" fill="#f8e820"/>
<line x1="1095.2" y1="2299.5" x2="1291" y2="1960" stroke="#f8e820" stroke-width="6"/>
<path d="M1300.5,1943.5 L1280.5,1960.5 L1296.5,1969.5 Z" fill="#f8e820"/>
<text x="994.80" y="1627.70" font-size="43" font-weight="normal" fill="#111" textLength="227.06" lengthAdjust="spacingAndGlyphs" >Player Lives</text>
<text x="1535.00" y="1627.70" font-size="43" font-weight="normal" fill="#111" textLength="112.23" lengthAdjust="spacingAndGlyphs" >Score</text>
<text x="995.00" y="2330.50" font-size="43" font-weight="normal" fill="#111" textLength="220.81" lengthAdjust="spacingAndGlyphs" >Game Over</text>
<text x="891.80" y="2443.80" font-size="40" font-weight="normal" fill="#111" textLength="45.81" lengthAdjust="spacingAndGlyphs" >43</text>
</svg></body></html>
